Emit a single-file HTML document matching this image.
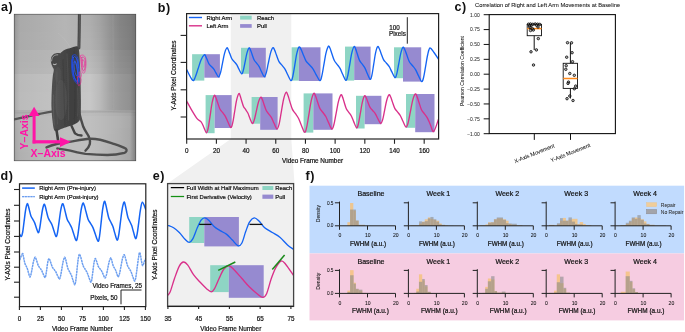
<!DOCTYPE html>
<html><head><meta charset="utf-8"><style>
html,body{margin:0;padding:0;background:#fff;}
svg{display:block;will-change:transform;}
text{font-family:"Liberation Sans",sans-serif;}
</style></head><body>
<svg width="685" height="332" viewBox="0 0 685 332">
<rect width="685" height="332" fill="#fff"/>
<text x="1.00" y="10.70" font-size="12.50" text-anchor="start" font-weight="bold" fill="#111" letter-spacing="0.6">a)</text>
<defs><clipPath id="photoclip"><rect x="14" y="14" width="122" height="147"/></clipPath><linearGradient id="pg0" gradientUnits="userSpaceOnUse" x1="14" x2="136" y1="0" y2="0"><stop offset="0.0000" stop-color="rgb(137,137,137)"/><stop offset="0.0164" stop-color="rgb(154,154,154)"/><stop offset="0.0492" stop-color="rgb(169,169,169)"/><stop offset="0.2131" stop-color="rgb(173,173,173)"/><stop offset="0.4180" stop-color="rgb(180,180,180)"/><stop offset="0.6230" stop-color="rgb(173,173,173)"/><stop offset="0.7049" stop-color="rgb(162,162,162)"/><stop offset="0.7869" stop-color="rgb(146,146,146)"/><stop offset="0.8689" stop-color="rgb(132,132,132)"/><stop offset="0.9508" stop-color="rgb(125,125,125)"/><stop offset="1.0000" stop-color="rgb(113,113,113)"/></linearGradient><linearGradient id="pg1" gradientUnits="userSpaceOnUse" x1="14" x2="136" y1="0" y2="0"><stop offset="0.0000" stop-color="rgb(140,140,140)"/><stop offset="0.0164" stop-color="rgb(157,157,157)"/><stop offset="0.0492" stop-color="rgb(170,170,170)"/><stop offset="0.2131" stop-color="rgb(174,174,174)"/><stop offset="0.4180" stop-color="rgb(181,181,181)"/><stop offset="0.6230" stop-color="rgb(174,174,174)"/><stop offset="0.7049" stop-color="rgb(163,163,163)"/><stop offset="0.7869" stop-color="rgb(147,147,147)"/><stop offset="0.8689" stop-color="rgb(132,132,132)"/><stop offset="0.9508" stop-color="rgb(125,125,125)"/><stop offset="1.0000" stop-color="rgb(114,114,114)"/></linearGradient><linearGradient id="pg2" gradientUnits="userSpaceOnUse" x1="14" x2="136" y1="0" y2="0"><stop offset="0.0000" stop-color="rgb(140,140,140)"/><stop offset="0.0164" stop-color="rgb(157,157,157)"/><stop offset="0.0492" stop-color="rgb(170,170,170)"/><stop offset="0.2131" stop-color="rgb(174,174,174)"/><stop offset="0.4180" stop-color="rgb(181,181,181)"/><stop offset="0.6230" stop-color="rgb(174,174,174)"/><stop offset="0.7049" stop-color="rgb(163,163,163)"/><stop offset="0.7869" stop-color="rgb(147,147,147)"/><stop offset="0.8689" stop-color="rgb(132,132,132)"/><stop offset="0.9508" stop-color="rgb(125,125,125)"/><stop offset="1.0000" stop-color="rgb(114,114,114)"/></linearGradient><linearGradient id="pg3" gradientUnits="userSpaceOnUse" x1="14" x2="136" y1="0" y2="0"><stop offset="0.0000" stop-color="rgb(141,141,141)"/><stop offset="0.0164" stop-color="rgb(158,158,158)"/><stop offset="0.0492" stop-color="rgb(170,170,170)"/><stop offset="0.2131" stop-color="rgb(174,174,174)"/><stop offset="0.4180" stop-color="rgb(181,181,181)"/><stop offset="0.6230" stop-color="rgb(175,175,175)"/><stop offset="0.7049" stop-color="rgb(164,164,164)"/><stop offset="0.7869" stop-color="rgb(148,148,148)"/><stop offset="0.8689" stop-color="rgb(133,133,133)"/><stop offset="0.9508" stop-color="rgb(126,126,126)"/><stop offset="1.0000" stop-color="rgb(114,114,114)"/></linearGradient><linearGradient id="pg4" gradientUnits="userSpaceOnUse" x1="14" x2="136" y1="0" y2="0"><stop offset="0.0000" stop-color="rgb(142,142,142)"/><stop offset="0.0164" stop-color="rgb(158,158,158)"/><stop offset="0.0492" stop-color="rgb(171,171,171)"/><stop offset="0.2131" stop-color="rgb(175,175,175)"/><stop offset="0.4180" stop-color="rgb(181,181,181)"/><stop offset="0.6230" stop-color="rgb(176,176,176)"/><stop offset="0.7049" stop-color="rgb(165,165,165)"/><stop offset="0.7869" stop-color="rgb(148,148,148)"/><stop offset="0.8689" stop-color="rgb(134,134,134)"/><stop offset="0.9508" stop-color="rgb(126,126,126)"/><stop offset="1.0000" stop-color="rgb(115,115,115)"/></linearGradient><linearGradient id="pg5" gradientUnits="userSpaceOnUse" x1="14" x2="136" y1="0" y2="0"><stop offset="0.0000" stop-color="rgb(143,143,143)"/><stop offset="0.0164" stop-color="rgb(159,159,159)"/><stop offset="0.0492" stop-color="rgb(171,171,171)"/><stop offset="0.2131" stop-color="rgb(175,175,175)"/><stop offset="0.4180" stop-color="rgb(181,181,181)"/><stop offset="0.6230" stop-color="rgb(177,177,177)"/><stop offset="0.7049" stop-color="rgb(166,166,166)"/><stop offset="0.7869" stop-color="rgb(149,149,149)"/><stop offset="0.8689" stop-color="rgb(135,135,135)"/><stop offset="0.9508" stop-color="rgb(127,127,127)"/><stop offset="1.0000" stop-color="rgb(115,115,115)"/></linearGradient><linearGradient id="pg6" gradientUnits="userSpaceOnUse" x1="14" x2="136" y1="0" y2="0"><stop offset="0.0000" stop-color="rgb(144,144,144)"/><stop offset="0.0164" stop-color="rgb(159,159,159)"/><stop offset="0.0492" stop-color="rgb(171,171,171)"/><stop offset="0.2131" stop-color="rgb(175,175,175)"/><stop offset="0.4180" stop-color="rgb(181,181,181)"/><stop offset="0.6230" stop-color="rgb(177,177,177)"/><stop offset="0.7049" stop-color="rgb(167,167,167)"/><stop offset="0.7869" stop-color="rgb(149,149,149)"/><stop offset="0.8689" stop-color="rgb(135,135,135)"/><stop offset="0.9508" stop-color="rgb(127,127,127)"/><stop offset="1.0000" stop-color="rgb(115,115,115)"/></linearGradient><linearGradient id="pg7" gradientUnits="userSpaceOnUse" x1="14" x2="136" y1="0" y2="0"><stop offset="0.0000" stop-color="rgb(148,148,148)"/><stop offset="0.0164" stop-color="rgb(164,164,164)"/><stop offset="0.0492" stop-color="rgb(177,177,177)"/><stop offset="0.2131" stop-color="rgb(180,180,180)"/><stop offset="0.4180" stop-color="rgb(184,184,184)"/><stop offset="0.6230" stop-color="rgb(182,182,182)"/><stop offset="0.7049" stop-color="rgb(172,172,172)"/><stop offset="0.7869" stop-color="rgb(154,154,154)"/><stop offset="0.8689" stop-color="rgb(140,140,140)"/><stop offset="0.9508" stop-color="rgb(132,132,132)"/><stop offset="1.0000" stop-color="rgb(118,118,118)"/></linearGradient><linearGradient id="pg8" gradientUnits="userSpaceOnUse" x1="14" x2="136" y1="0" y2="0"><stop offset="0.0000" stop-color="rgb(149,149,149)"/><stop offset="0.0164" stop-color="rgb(165,165,165)"/><stop offset="0.0492" stop-color="rgb(177,177,177)"/><stop offset="0.2131" stop-color="rgb(180,180,180)"/><stop offset="0.4180" stop-color="rgb(185,185,185)"/><stop offset="0.6230" stop-color="rgb(184,184,184)"/><stop offset="0.7049" stop-color="rgb(174,174,174)"/><stop offset="0.7869" stop-color="rgb(155,155,155)"/><stop offset="0.8689" stop-color="rgb(141,141,141)"/><stop offset="0.9508" stop-color="rgb(134,134,134)"/><stop offset="1.0000" stop-color="rgb(118,118,118)"/></linearGradient><linearGradient id="pg9" gradientUnits="userSpaceOnUse" x1="14" x2="136" y1="0" y2="0"><stop offset="0.0000" stop-color="rgb(150,150,150)"/><stop offset="0.0164" stop-color="rgb(166,166,166)"/><stop offset="0.0492" stop-color="rgb(178,178,178)"/><stop offset="0.2131" stop-color="rgb(181,181,181)"/><stop offset="0.4180" stop-color="rgb(186,186,186)"/><stop offset="0.6230" stop-color="rgb(186,186,186)"/><stop offset="0.7049" stop-color="rgb(176,176,176)"/><stop offset="0.7869" stop-color="rgb(156,156,156)"/><stop offset="0.8689" stop-color="rgb(143,143,143)"/><stop offset="0.9508" stop-color="rgb(136,136,136)"/><stop offset="1.0000" stop-color="rgb(119,119,119)"/></linearGradient><linearGradient id="pg10" gradientUnits="userSpaceOnUse" x1="14" x2="136" y1="0" y2="0"><stop offset="0.0000" stop-color="rgb(151,151,151)"/><stop offset="0.0164" stop-color="rgb(167,167,167)"/><stop offset="0.0492" stop-color="rgb(179,179,179)"/><stop offset="0.2131" stop-color="rgb(182,182,182)"/><stop offset="0.4180" stop-color="rgb(187,187,187)"/><stop offset="0.6230" stop-color="rgb(188,188,188)"/><stop offset="0.7049" stop-color="rgb(178,178,178)"/><stop offset="0.7869" stop-color="rgb(157,157,157)"/><stop offset="0.8689" stop-color="rgb(145,145,145)"/><stop offset="0.9508" stop-color="rgb(138,138,138)"/><stop offset="1.0000" stop-color="rgb(119,119,119)"/></linearGradient><linearGradient id="pg11" gradientUnits="userSpaceOnUse" x1="14" x2="136" y1="0" y2="0"><stop offset="0.0000" stop-color="rgb(158,158,158)"/><stop offset="0.0164" stop-color="rgb(174,174,174)"/><stop offset="0.0492" stop-color="rgb(186,186,186)"/><stop offset="0.2131" stop-color="rgb(190,190,190)"/><stop offset="0.4180" stop-color="rgb(194,194,194)"/><stop offset="0.6230" stop-color="rgb(198,198,198)"/><stop offset="0.7049" stop-color="rgb(186,186,186)"/><stop offset="0.7869" stop-color="rgb(164,164,164)"/><stop offset="0.8689" stop-color="rgb(152,152,152)"/><stop offset="0.9508" stop-color="rgb(144,144,144)"/><stop offset="1.0000" stop-color="rgb(122,122,122)"/></linearGradient><linearGradient id="pg12" gradientUnits="userSpaceOnUse" x1="14" x2="136" y1="0" y2="0"><stop offset="0.0000" stop-color="rgb(158,158,158)"/><stop offset="0.0164" stop-color="rgb(174,174,174)"/><stop offset="0.0492" stop-color="rgb(186,186,186)"/><stop offset="0.2131" stop-color="rgb(190,190,190)"/><stop offset="0.4180" stop-color="rgb(194,194,194)"/><stop offset="0.6230" stop-color="rgb(198,198,198)"/><stop offset="0.7049" stop-color="rgb(186,186,186)"/><stop offset="0.7869" stop-color="rgb(164,164,164)"/><stop offset="0.8689" stop-color="rgb(152,152,152)"/><stop offset="0.9508" stop-color="rgb(144,144,144)"/><stop offset="1.0000" stop-color="rgb(121,121,121)"/></linearGradient><linearGradient id="pg13" gradientUnits="userSpaceOnUse" x1="14" x2="136" y1="0" y2="0"><stop offset="0.0000" stop-color="rgb(158,158,158)"/><stop offset="0.0164" stop-color="rgb(174,174,174)"/><stop offset="0.0492" stop-color="rgb(186,186,186)"/><stop offset="0.2131" stop-color="rgb(190,190,190)"/><stop offset="0.4180" stop-color="rgb(194,194,194)"/><stop offset="0.6230" stop-color="rgb(198,198,198)"/><stop offset="0.7049" stop-color="rgb(186,186,186)"/><stop offset="0.7869" stop-color="rgb(164,164,164)"/><stop offset="0.8689" stop-color="rgb(152,152,152)"/><stop offset="0.9508" stop-color="rgb(144,144,144)"/><stop offset="1.0000" stop-color="rgb(122,122,122)"/></linearGradient><linearGradient id="pg14" gradientUnits="userSpaceOnUse" x1="14" x2="136" y1="0" y2="0"><stop offset="0.0000" stop-color="rgb(159,159,159)"/><stop offset="0.0164" stop-color="rgb(175,175,175)"/><stop offset="0.0492" stop-color="rgb(187,187,187)"/><stop offset="0.2131" stop-color="rgb(191,191,191)"/><stop offset="0.4180" stop-color="rgb(195,195,195)"/><stop offset="0.6230" stop-color="rgb(199,199,199)"/><stop offset="0.7049" stop-color="rgb(186,186,186)"/><stop offset="0.7869" stop-color="rgb(165,165,165)"/><stop offset="0.8689" stop-color="rgb(153,153,153)"/><stop offset="0.9508" stop-color="rgb(145,145,145)"/><stop offset="1.0000" stop-color="rgb(122,122,122)"/></linearGradient><linearGradient id="pg15" gradientUnits="userSpaceOnUse" x1="14" x2="136" y1="0" y2="0"><stop offset="0.0000" stop-color="rgb(159,159,159)"/><stop offset="0.0164" stop-color="rgb(175,175,175)"/><stop offset="0.0492" stop-color="rgb(187,187,187)"/><stop offset="0.2131" stop-color="rgb(191,191,191)"/><stop offset="0.4180" stop-color="rgb(195,195,195)"/><stop offset="0.6230" stop-color="rgb(199,199,199)"/><stop offset="0.7049" stop-color="rgb(186,186,186)"/><stop offset="0.7869" stop-color="rgb(165,165,165)"/><stop offset="0.8689" stop-color="rgb(153,153,153)"/><stop offset="0.9508" stop-color="rgb(145,145,145)"/><stop offset="1.0000" stop-color="rgb(122,122,122)"/></linearGradient><linearGradient id="pg16" gradientUnits="userSpaceOnUse" x1="14" x2="136" y1="0" y2="0"><stop offset="0.0000" stop-color="rgb(159,159,159)"/><stop offset="0.0164" stop-color="rgb(175,175,175)"/><stop offset="0.0492" stop-color="rgb(187,187,187)"/><stop offset="0.2131" stop-color="rgb(191,191,191)"/><stop offset="0.4180" stop-color="rgb(195,195,195)"/><stop offset="0.6230" stop-color="rgb(199,199,199)"/><stop offset="0.7049" stop-color="rgb(186,186,186)"/><stop offset="0.7869" stop-color="rgb(165,165,165)"/><stop offset="0.8689" stop-color="rgb(153,153,153)"/><stop offset="0.9508" stop-color="rgb(145,145,145)"/><stop offset="1.0000" stop-color="rgb(122,122,122)"/></linearGradient><linearGradient id="pg17" gradientUnits="userSpaceOnUse" x1="14" x2="136" y1="0" y2="0"><stop offset="0.0000" stop-color="rgb(151,151,151)"/><stop offset="0.0164" stop-color="rgb(166,166,166)"/><stop offset="0.0492" stop-color="rgb(174,174,174)"/><stop offset="0.2131" stop-color="rgb(178,178,178)"/><stop offset="0.4180" stop-color="rgb(182,182,182)"/><stop offset="0.6230" stop-color="rgb(184,184,184)"/><stop offset="0.7049" stop-color="rgb(179,179,179)"/><stop offset="0.7869" stop-color="rgb(171,171,171)"/><stop offset="0.8689" stop-color="rgb(163,163,163)"/><stop offset="0.9508" stop-color="rgb(156,156,156)"/><stop offset="1.0000" stop-color="rgb(120,120,120)"/></linearGradient><linearGradient id="pg18" gradientUnits="userSpaceOnUse" x1="14" x2="136" y1="0" y2="0"><stop offset="0.0000" stop-color="rgb(155,155,155)"/><stop offset="0.0164" stop-color="rgb(169,169,169)"/><stop offset="0.0492" stop-color="rgb(177,177,177)"/><stop offset="0.2131" stop-color="rgb(182,182,182)"/><stop offset="0.4180" stop-color="rgb(186,186,186)"/><stop offset="0.6230" stop-color="rgb(188,188,188)"/><stop offset="0.7049" stop-color="rgb(184,184,184)"/><stop offset="0.7869" stop-color="rgb(178,178,178)"/><stop offset="0.8689" stop-color="rgb(173,173,173)"/><stop offset="0.9508" stop-color="rgb(165,165,165)"/><stop offset="1.0000" stop-color="rgb(123,123,123)"/></linearGradient><linearGradient id="pg19" gradientUnits="userSpaceOnUse" x1="14" x2="136" y1="0" y2="0"><stop offset="0.0000" stop-color="rgb(157,157,157)"/><stop offset="0.0164" stop-color="rgb(171,171,171)"/><stop offset="0.0492" stop-color="rgb(179,179,179)"/><stop offset="0.2131" stop-color="rgb(185,185,185)"/><stop offset="0.4180" stop-color="rgb(190,190,190)"/><stop offset="0.6230" stop-color="rgb(191,191,191)"/><stop offset="0.7049" stop-color="rgb(187,187,187)"/><stop offset="0.7869" stop-color="rgb(182,182,182)"/><stop offset="0.8689" stop-color="rgb(177,177,177)"/><stop offset="0.9508" stop-color="rgb(169,169,169)"/><stop offset="1.0000" stop-color="rgb(125,125,125)"/></linearGradient><linearGradient id="pg20" gradientUnits="userSpaceOnUse" x1="14" x2="136" y1="0" y2="0"><stop offset="0.0000" stop-color="rgb(157,157,157)"/><stop offset="0.0164" stop-color="rgb(171,171,171)"/><stop offset="0.0492" stop-color="rgb(179,179,179)"/><stop offset="0.2131" stop-color="rgb(185,185,185)"/><stop offset="0.4180" stop-color="rgb(190,190,190)"/><stop offset="0.6230" stop-color="rgb(191,191,191)"/><stop offset="0.7049" stop-color="rgb(187,187,187)"/><stop offset="0.7869" stop-color="rgb(182,182,182)"/><stop offset="0.8689" stop-color="rgb(177,177,177)"/><stop offset="0.9508" stop-color="rgb(169,169,169)"/><stop offset="1.0000" stop-color="rgb(125,125,125)"/></linearGradient><linearGradient id="pg21" gradientUnits="userSpaceOnUse" x1="14" x2="136" y1="0" y2="0"><stop offset="0.0000" stop-color="rgb(157,157,157)"/><stop offset="0.0164" stop-color="rgb(171,171,171)"/><stop offset="0.0492" stop-color="rgb(179,179,179)"/><stop offset="0.2131" stop-color="rgb(185,185,185)"/><stop offset="0.4180" stop-color="rgb(190,190,190)"/><stop offset="0.6230" stop-color="rgb(191,191,191)"/><stop offset="0.7049" stop-color="rgb(187,187,187)"/><stop offset="0.7869" stop-color="rgb(182,182,182)"/><stop offset="0.8689" stop-color="rgb(177,177,177)"/><stop offset="0.9508" stop-color="rgb(169,169,169)"/><stop offset="1.0000" stop-color="rgb(125,125,125)"/></linearGradient><linearGradient id="pg22" gradientUnits="userSpaceOnUse" x1="14" x2="136" y1="0" y2="0"><stop offset="0.0000" stop-color="rgb(157,157,157)"/><stop offset="0.0164" stop-color="rgb(170,170,170)"/><stop offset="0.0492" stop-color="rgb(178,178,178)"/><stop offset="0.2131" stop-color="rgb(185,185,185)"/><stop offset="0.4180" stop-color="rgb(190,190,190)"/><stop offset="0.6230" stop-color="rgb(191,191,191)"/><stop offset="0.7049" stop-color="rgb(187,187,187)"/><stop offset="0.7869" stop-color="rgb(182,182,182)"/><stop offset="0.8689" stop-color="rgb(176,176,176)"/><stop offset="0.9508" stop-color="rgb(168,168,168)"/><stop offset="1.0000" stop-color="rgb(125,125,125)"/></linearGradient><linearGradient id="pg23" gradientUnits="userSpaceOnUse" x1="14" x2="136" y1="0" y2="0"><stop offset="0.0000" stop-color="rgb(156,156,156)"/><stop offset="0.0164" stop-color="rgb(170,170,170)"/><stop offset="0.0492" stop-color="rgb(178,178,178)"/><stop offset="0.2131" stop-color="rgb(185,185,185)"/><stop offset="0.4180" stop-color="rgb(190,190,190)"/><stop offset="0.6230" stop-color="rgb(191,191,191)"/><stop offset="0.7049" stop-color="rgb(187,187,187)"/><stop offset="0.7869" stop-color="rgb(181,181,181)"/><stop offset="0.8689" stop-color="rgb(176,176,176)"/><stop offset="0.9508" stop-color="rgb(168,168,168)"/><stop offset="1.0000" stop-color="rgb(125,125,125)"/></linearGradient><linearGradient id="pg24" gradientUnits="userSpaceOnUse" x1="14" x2="136" y1="0" y2="0"><stop offset="0.0000" stop-color="rgb(156,156,156)"/><stop offset="0.0164" stop-color="rgb(169,169,169)"/><stop offset="0.0492" stop-color="rgb(177,177,177)"/><stop offset="0.2131" stop-color="rgb(185,185,185)"/><stop offset="0.4180" stop-color="rgb(190,190,190)"/><stop offset="0.6230" stop-color="rgb(190,190,190)"/><stop offset="0.7049" stop-color="rgb(186,186,186)"/><stop offset="0.7869" stop-color="rgb(181,181,181)"/><stop offset="0.8689" stop-color="rgb(175,175,175)"/><stop offset="0.9508" stop-color="rgb(167,167,167)"/><stop offset="1.0000" stop-color="rgb(125,125,125)"/></linearGradient><linearGradient id="pg25" gradientUnits="userSpaceOnUse" x1="14" x2="136" y1="0" y2="0"><stop offset="0.0000" stop-color="rgb(155,155,155)"/><stop offset="0.0164" stop-color="rgb(169,169,169)"/><stop offset="0.0492" stop-color="rgb(177,177,177)"/><stop offset="0.2131" stop-color="rgb(185,185,185)"/><stop offset="0.4180" stop-color="rgb(190,190,190)"/><stop offset="0.6230" stop-color="rgb(190,190,190)"/><stop offset="0.7049" stop-color="rgb(186,186,186)"/><stop offset="0.7869" stop-color="rgb(180,180,180)"/><stop offset="0.8689" stop-color="rgb(175,175,175)"/><stop offset="0.9508" stop-color="rgb(167,167,167)"/><stop offset="1.0000" stop-color="rgb(125,125,125)"/></linearGradient><linearGradient id="pg26" gradientUnits="userSpaceOnUse" x1="14" x2="136" y1="0" y2="0"><stop offset="0.0000" stop-color="rgb(155,155,155)"/><stop offset="0.0164" stop-color="rgb(168,168,168)"/><stop offset="0.0492" stop-color="rgb(176,176,176)"/><stop offset="0.2131" stop-color="rgb(185,185,185)"/><stop offset="0.4180" stop-color="rgb(190,190,190)"/><stop offset="0.6230" stop-color="rgb(190,190,190)"/><stop offset="0.7049" stop-color="rgb(186,186,186)"/><stop offset="0.7869" stop-color="rgb(180,180,180)"/><stop offset="0.8689" stop-color="rgb(174,174,174)"/><stop offset="0.9508" stop-color="rgb(166,166,166)"/><stop offset="1.0000" stop-color="rgb(125,125,125)"/></linearGradient><linearGradient id="pg27" gradientUnits="userSpaceOnUse" x1="14" x2="136" y1="0" y2="0"><stop offset="0.0000" stop-color="rgb(155,155,155)"/><stop offset="0.0164" stop-color="rgb(168,168,168)"/><stop offset="0.0492" stop-color="rgb(176,176,176)"/><stop offset="0.2131" stop-color="rgb(185,185,185)"/><stop offset="0.4180" stop-color="rgb(190,190,190)"/><stop offset="0.6230" stop-color="rgb(190,190,190)"/><stop offset="0.7049" stop-color="rgb(186,186,186)"/><stop offset="0.7869" stop-color="rgb(180,180,180)"/><stop offset="0.8689" stop-color="rgb(174,174,174)"/><stop offset="0.9508" stop-color="rgb(166,166,166)"/><stop offset="1.0000" stop-color="rgb(125,125,125)"/></linearGradient><filter id="soft" x="-5%" y="-5%" width="110%" height="110%"><feGaussianBlur stdDeviation="0.6"/></filter><filter id="soft2" x="-5%" y="-5%" width="110%" height="110%"><feGaussianBlur stdDeviation="0.35"/></filter></defs>
<g clip-path="url(#photoclip)">
<g filter="url(#soft)"><rect x="14" y="14.0" width="122" height="3.3" fill="url(#pg0)"/><rect x="14" y="17.0" width="122" height="3.3" fill="url(#pg1)"/><rect x="14" y="20.0" width="122" height="6.3" fill="url(#pg2)"/><rect x="14" y="26.0" width="122" height="6.3" fill="url(#pg3)"/><rect x="14" y="32.0" width="122" height="6.3" fill="url(#pg4)"/><rect x="14" y="38.0" width="122" height="6.3" fill="url(#pg5)"/><rect x="14" y="44.0" width="122" height="6.3" fill="url(#pg6)"/><rect x="14" y="50.0" width="122" height="6.3" fill="url(#pg7)"/><rect x="14" y="56.0" width="122" height="6.3" fill="url(#pg8)"/><rect x="14" y="62.0" width="122" height="6.3" fill="url(#pg9)"/><rect x="14" y="68.0" width="122" height="6.3" fill="url(#pg10)"/><rect x="14" y="74.0" width="122" height="6.3" fill="url(#pg11)"/><rect x="14" y="80.0" width="122" height="6.3" fill="url(#pg12)"/><rect x="14" y="86.0" width="122" height="6.3" fill="url(#pg13)"/><rect x="14" y="92.0" width="122" height="6.3" fill="url(#pg14)"/><rect x="14" y="98.0" width="122" height="6.3" fill="url(#pg15)"/><rect x="14" y="104.0" width="122" height="6.3" fill="url(#pg16)"/><rect x="14" y="110.0" width="122" height="3.3" fill="url(#pg17)"/><rect x="14" y="113.0" width="122" height="3.3" fill="url(#pg18)"/><rect x="14" y="116.0" width="122" height="3.3" fill="url(#pg19)"/><rect x="14" y="119.0" width="122" height="3.3" fill="url(#pg20)"/><rect x="14" y="122.0" width="122" height="6.3" fill="url(#pg21)"/><rect x="14" y="128.0" width="122" height="6.3" fill="url(#pg22)"/><rect x="14" y="134.0" width="122" height="6.3" fill="url(#pg23)"/><rect x="14" y="140.0" width="122" height="6.3" fill="url(#pg24)"/><rect x="14" y="146.0" width="122" height="6.3" fill="url(#pg25)"/><rect x="14" y="152.0" width="122" height="6.3" fill="url(#pg26)"/><rect x="14" y="158.0" width="122" height="3.3" fill="url(#pg27)"/></g>
<g filter="url(#soft2)">
<path d="M113,14 L113.5,112" stroke="#a8a8a8" stroke-width="0.60" fill="none" stroke-linejoin="round" stroke-linecap="round" opacity="0.5"/>
<path d="M14,113 C50,112.5 90,112 136,111" stroke="#9a9a9a" stroke-width="0.80" fill="none" stroke-linejoin="round" stroke-linecap="round" opacity="0.6"/>
<path d="M79.4,14 C79.3,30 79.1,40 78.9,48" stroke="#474747" stroke-width="3.00" fill="none" stroke-linejoin="round" stroke-linecap="round" />
<path d="M79.4,14 C79.3,30 79.1,40 78.9,48" stroke="#5c5c5c" stroke-width="1.00" fill="none" stroke-linejoin="round" stroke-linecap="round" />
<path d="M79,111.7 C80.5,118 82,123 83.3,126.8 C85,131 87.5,134 88.8,136.6 C90,139.5 90.3,142 89.8,144.2 C89,147 87.5,149 85.5,150.7" stroke="#4c4c4c" stroke-width="2.40" fill="none" stroke-linejoin="round" stroke-linecap="round" />
<path d="M46.5,147.4 C53,144.5 60,142.8 68.2,142 C75,141 82,139.5 89.8,138.8 C97,138.5 104,140.5 111.5,143.1 C117,145 122,146.5 125.6,148.5 C127.5,150 126.5,152 124.5,152.8 C118,154.5 112,155 107.2,155 C99,155 92,154.5 85.5,153.9 C80,153 75,152 70.3,150.7 C65,149.5 61,149 57.3,148.5" stroke="#505050" stroke-width="2.40" fill="none" stroke-linejoin="round" stroke-linecap="round" />
<path d="M14,119.3 C26,117 38,114 51.9,111.7" stroke="#555555" stroke-width="2.20" fill="none" stroke-linejoin="round" stroke-linecap="round" />
<defs><linearGradient id="furg" x1="0" x2="1" y1="0" y2="0"><stop offset="0" stop-color="#505050"/><stop offset="0.35" stop-color="#474747"/><stop offset="0.8" stop-color="#3e3e3e"/><stop offset="1" stop-color="#4a4a4a"/></linearGradient></defs>
<path d="M60.50,53.20 C61.00,52.77 62.33,51.33 63.50,50.60 C64.67,49.87 66.08,49.33 67.50,48.80 C68.92,48.27 70.55,47.83 72.00,47.40 C73.45,46.97 75.15,46.23 76.20,46.20 C77.25,46.17 77.78,46.07 78.30,47.20 C78.82,48.33 79.02,50.03 79.30,53.00 C79.58,55.97 79.78,60.08 80.00,65.00 C80.22,69.92 80.45,76.67 80.60,82.50 C80.75,88.33 80.88,94.75 80.90,100.00 C80.92,105.25 80.93,110.58 80.70,114.00 C80.47,117.42 80.45,118.83 79.50,120.50 C78.55,122.17 76.92,123.00 75.00,124.00 C73.08,125.00 70.33,125.67 68.00,126.50 C65.67,127.33 63.00,128.20 61.00,129.00 C59.00,129.80 57.20,131.30 56.00,131.30 C54.80,131.30 54.40,130.88 53.80,129.00 C53.20,127.12 52.78,123.50 52.40,120.00 C52.02,116.50 51.65,111.62 51.50,108.00 C51.35,104.38 51.42,101.97 51.50,98.30 C51.58,94.63 51.78,89.72 52.00,86.00 C52.22,82.28 52.50,78.70 52.80,76.00 C53.10,73.30 53.90,71.43 53.80,69.80 C53.70,68.17 52.68,67.50 52.20,66.20 C51.72,64.90 51.07,63.45 50.90,62.00 C50.73,60.55 50.77,58.80 51.20,57.50 C51.63,56.20 52.53,54.95 53.50,54.20 C54.47,53.45 55.83,53.17 57.00,53.00 C58.17,52.83 59.92,53.17 60.50,53.20 Z" stroke="none" stroke-width="0.00" fill="url(#furg)" stroke-linejoin="round" stroke-linecap="round" />
<path d="M56.5,130 C57,133 57.5,136.5 58,139.8" stroke="#404040" stroke-width="2.60" fill="none" stroke-linejoin="round" stroke-linecap="round" />
<path d="M71.4,125.5 C73,129 74,131.5 75,133.3 C77,135 79,135.5 81.5,135.5" stroke="#454545" stroke-width="2.40" fill="none" stroke-linejoin="round" stroke-linecap="round" />
<ellipse cx="61" cy="100" rx="6" ry="20" fill="#5c5c5c" opacity="0.45" filter="url(#soft)"/>
<ellipse cx="58" cy="75" rx="3.5" ry="8" fill="#5a5a5a" opacity="0.4" filter="url(#soft)"/>
<path d="M53.5,95 C53.2,105 53.4,115 54.3,125" stroke="#6a6a6a" stroke-width="0.90" fill="none" stroke-linejoin="round" stroke-linecap="round" opacity="0.50"/>
<path d="M57,72 C56.5,85 56,100 57.5,124" stroke="#606060" stroke-width="0.80" fill="none" stroke-linejoin="round" stroke-linecap="round" opacity="0.50"/>
<path d="M63,60 C63.5,75 64,95 65,125" stroke="#3a3a3a" stroke-width="1.00" fill="none" stroke-linejoin="round" stroke-linecap="round" opacity="0.50"/>
<path d="M67,54 C68,70 68.5,95 68.5,120" stroke="#5e5e5e" stroke-width="0.80" fill="none" stroke-linejoin="round" stroke-linecap="round" opacity="0.50"/>
<path d="M74,52 C75,70 75.5,95 74.5,118" stroke="#363636" stroke-width="1.00" fill="none" stroke-linejoin="round" stroke-linecap="round" opacity="0.50"/>
<path d="M77.5,88 C78.2,100 78.5,108 77.5,116" stroke="#5e5e5e" stroke-width="0.80" fill="none" stroke-linejoin="round" stroke-linecap="round" opacity="0.50"/>
<path d="M51.3,60 C51.5,56 55,53.8 58.5,54.8 C60.5,56 60.2,59.5 58.5,62 C57,64.2 55.2,66 53.8,66.2 C52.2,65 51.2,62.5 51.3,60 Z" stroke="none" stroke-width="0.00" fill="#474747" stroke-linejoin="round" stroke-linecap="round" />
<path d="M51.6,61 C51.6,57 54.5,54.5 57.8,54.8" stroke="#a0a0a0" stroke-width="1.00" fill="none" stroke-linejoin="round" stroke-linecap="round" />
<path d="M53.5,64.2 C54.5,64.8 55.5,64.6 56.2,63.8" stroke="#b0b0b0" stroke-width="1.10" fill="none" stroke-linejoin="round" stroke-linecap="round" />
<path d="M70,47 C66,40 62,36 58,33" stroke="#d0d0d0" stroke-width="0.30" fill="none" stroke-linejoin="round" stroke-linecap="round" opacity="0.6"/>
</g>
<g fill="none" stroke-linejoin="round">
<path d="M72.5,56 C71.2,62 71.3,72 73.3,78 C75,83 77.8,85 79,82.5 C79.6,76 79.2,64 77.8,58 C76.5,54.5 73.8,53.5 72.5,56 Z" stroke="#1e4cf2" stroke-width="0.75" fill="none" stroke-linejoin="round" stroke-linecap="round" />
<path d="M73.2,57.5 C72.2,63 72.4,71 74.2,77 C75.6,81 77.7,82 78.2,79 C78.6,73 78,64 76.9,59.5 C76,56.5 74.1,55.5 73.2,57.5 Z" stroke="#2a5af8" stroke-width="0.75" fill="none" stroke-linejoin="round" stroke-linecap="round" />
<path d="M72,60 C71.7,66 72.8,74 75.1,79.5 C76.5,82.5 78.8,84 78.6,80 C78.3,74 76.9,66 75,61 C74,58.5 72.3,58 72,60 Z" stroke="#1b45e6" stroke-width="0.75" fill="none" stroke-linejoin="round" stroke-linecap="round" />
<path d="M74.2,62 C73.7,67 74.6,72 76,75 C77,77 77.9,76 77.7,73 C77.4,69 76.5,64 75.6,62 C75.1,61 74.4,61 74.2,62 Z" stroke="#2f62ff" stroke-width="0.75" fill="none" stroke-linejoin="round" stroke-linecap="round" />
<path d="M73,64 C72.6,70 73.6,76 75.6,80.5 C76.8,83 78.4,83 78.2,79.5" stroke="#2050f0" stroke-width="0.75" fill="none" stroke-linejoin="round" stroke-linecap="round" />
<path d="M75.5,57 C77.2,58.5 78.3,63 78.6,68" stroke="#2658f5" stroke-width="0.75" fill="none" stroke-linejoin="round" stroke-linecap="round" />
<path d="M80.5,56 C82,54 84.5,55 85.5,58 C86.5,62 86,68 84.8,72 C84,74 82.5,73.5 82,71 C81.5,67 80.8,61 80.5,56 Z" stroke="#f0369f" stroke-width="0.70" fill="none" stroke-linejoin="round" stroke-linecap="round" />
<path d="M81.8,57.5 C83,56.2 84.8,57.5 85.2,60.5 C85.7,64 85,69 84,70.5 C83,71.5 82.3,69 82,66 C81.7,63 81.5,60 81.8,57.5 Z" stroke="#e02a90" stroke-width="0.70" fill="none" stroke-linejoin="round" stroke-linecap="round" />
<path d="M82.5,60 C83.5,59 84.5,61 84.5,63.5 C84.5,66 83.8,68 83.2,67 C82.6,65.5 82.3,62 82.5,60 Z" stroke="#ea3399" stroke-width="0.70" fill="none" stroke-linejoin="round" stroke-linecap="round" />
<path d="M77.5,77 C79,75.5 81,77 81,80 C81,83.5 79.5,86.5 78.5,85.5 C77.5,84 77.2,80 77.5,77 Z" stroke="#d42a8a" stroke-width="0.70" fill="none" stroke-linejoin="round" stroke-linecap="round" />
<path d="M79.5,72 C80.8,71 81.8,73 81.3,76 C80.8,78.5 79.6,79 79.3,77 Z" stroke="#e0409f" stroke-width="0.70" fill="none" stroke-linejoin="round" stroke-linecap="round" />
</g>
</g>
<rect x="14.2" y="14.2" width="121.6" height="146.6" fill="none" stroke="#4a4a4a" stroke-width="0.6"/>
<rect x="32.6" y="115" width="3.0" height="28.5" fill="#ff14a6"/>
<polygon points="28.7,116 39.5,116 34.1,106.8" fill="#ff14a6"/>
<rect x="32.6" y="140.2" width="28.5" height="3.2" fill="#ff14a6"/>
<polygon points="60,137.2 60,147 70.8,141.8" fill="#ff14a6"/>
<text x="0.00" y="0.00" font-size="10.50" text-anchor="start" font-weight="bold" fill="#ff14a6" transform="translate(28.4,149.4) rotate(-90)">Y–Axis</text>
<text x="30.60" y="157.20" font-size="10.50" text-anchor="start" font-weight="bold" fill="#ff14a6" >X–Axis</text>
<text x="157.80" y="11.70" font-size="12.50" text-anchor="start" font-weight="bold" fill="#111" letter-spacing="0.6">b)</text>
<polygon points="230.8,13.6 291.3,13.6 291.3,139.0 294.5,183.5 167.5,183.5 230.8,139.0" fill="#f0f0f0"/>
<rect x="192.10" y="54.20" width="12.20" height="26.40" fill="#8ed5c4" />
<rect x="204.30" y="54.20" width="15.60" height="23.50" fill="#968ad0" />
<rect x="241.00" y="47.80" width="8.00" height="26.00" fill="#8ed5c4" />
<rect x="249.00" y="47.80" width="16.80" height="29.70" fill="#968ad0" />
<rect x="291.60" y="47.30" width="7.20" height="33.30" fill="#8ed5c4" />
<rect x="298.80" y="47.30" width="21.70" height="33.70" fill="#968ad0" />
<rect x="345.00" y="46.60" width="9.20" height="34.00" fill="#8ed5c4" />
<rect x="354.20" y="46.60" width="16.40" height="33.40" fill="#968ad0" />
<rect x="394.00" y="47.30" width="9.00" height="30.90" fill="#8ed5c4" />
<rect x="403.00" y="47.30" width="18.20" height="34.30" fill="#968ad0" />
<rect x="205.60" y="95.10" width="9.00" height="38.10" fill="#8ed5c4" />
<rect x="214.60" y="95.10" width="17.10" height="32.90" fill="#968ad0" />
<rect x="251.60" y="97.00" width="8.60" height="26.70" fill="#8ed5c4" />
<rect x="260.20" y="97.00" width="17.40" height="32.80" fill="#968ad0" />
<rect x="303.60" y="93.40" width="9.70" height="39.20" fill="#8ed5c4" />
<rect x="313.30" y="93.40" width="19.20" height="36.40" fill="#968ad0" />
<rect x="356.00" y="95.80" width="8.60" height="32.70" fill="#8ed5c4" />
<rect x="364.60" y="95.80" width="16.80" height="28.40" fill="#968ad0" />
<rect x="406.00" y="94.00" width="9.20" height="33.80" fill="#8ed5c4" />
<rect x="415.20" y="94.00" width="19.30" height="38.20" fill="#968ad0" />
<path d="M186.60,69.50 C187.60,71.30 191.15,79.05 192.60,80.30 C194.05,81.55 194.39,78.86 195.29,76.98 C196.19,75.11 197.03,71.93 197.98,69.08 C198.94,66.23 199.97,62.28 201.02,59.90 C202.08,57.52 203.52,55.39 204.30,54.80 C205.08,54.21 205.25,55.53 205.72,56.34 C206.19,57.15 206.57,58.36 207.14,59.64 C207.71,60.92 208.42,62.90 209.13,64.04 C209.84,65.18 210.62,65.62 211.40,66.46 C212.18,67.30 213.06,68.04 213.81,69.10 C214.57,70.16 215.16,71.56 215.94,72.84 C216.72,74.12 217.76,76.77 218.50,76.80 C219.24,76.83 219.77,75.16 220.41,73.04 C221.05,70.92 221.64,67.31 222.32,64.08 C223.00,60.86 223.73,56.38 224.48,53.68 C225.22,50.98 226.17,48.56 226.80,47.90 C227.43,47.24 227.79,48.76 228.28,49.71 C228.77,50.66 229.17,52.09 229.76,53.60 C230.35,55.11 231.09,57.44 231.83,58.78 C232.57,60.12 233.39,60.63 234.20,61.63 C235.01,62.62 235.93,63.48 236.72,64.73 C237.51,65.99 238.12,67.63 238.94,69.14 C239.75,70.65 240.87,73.58 241.60,73.80 C242.33,74.02 242.73,72.33 243.30,70.43 C243.87,68.53 244.40,65.30 245.00,62.40 C245.61,59.51 246.26,55.50 246.93,53.08 C247.59,50.66 248.40,48.43 249.00,47.90 C249.60,47.37 250.01,48.86 250.52,49.92 C251.03,50.97 251.43,52.56 252.04,54.24 C252.65,55.92 253.41,58.51 254.17,60.00 C254.93,61.48 255.76,62.06 256.60,63.16 C257.44,64.27 258.37,65.23 259.18,66.62 C259.99,68.01 260.63,69.84 261.46,71.52 C262.30,73.20 263.41,76.46 264.20,76.70 C264.99,76.94 265.52,75.06 266.18,72.94 C266.84,70.82 267.45,67.21 268.16,63.98 C268.86,60.76 269.62,56.28 270.39,53.58 C271.17,50.88 272.10,48.38 272.80,47.80 C273.50,47.22 274.01,48.89 274.62,50.10 C275.23,51.30 275.71,53.10 276.44,55.02 C277.17,56.93 278.08,59.88 278.99,61.58 C279.90,63.27 280.90,63.93 281.90,65.18 C282.90,66.44 284.02,67.53 284.99,69.12 C285.96,70.71 286.72,72.78 287.72,74.70 C288.72,76.61 290.15,80.34 291.00,80.60 C291.85,80.86 292.23,78.70 292.84,76.23 C293.45,73.77 294.03,69.57 294.68,65.82 C295.33,62.06 296.04,56.86 296.76,53.72 C297.48,50.58 298.28,47.73 299.00,47.00 C299.72,46.27 300.39,48.12 301.08,49.35 C301.77,50.58 302.33,52.43 303.16,54.39 C303.99,56.35 305.03,59.38 306.07,61.11 C307.11,62.85 308.26,63.52 309.40,64.81 C310.54,66.10 311.83,67.22 312.94,68.84 C314.05,70.46 314.91,72.59 316.06,74.55 C317.20,76.51 318.85,80.34 319.80,80.60 C320.75,80.86 321.12,78.65 321.78,76.13 C322.44,73.61 323.05,69.31 323.76,65.46 C324.46,61.62 325.22,56.29 325.99,53.08 C326.77,49.87 327.71,46.95 328.40,46.20 C329.09,45.45 329.56,47.34 330.14,48.59 C330.72,49.85 331.18,51.73 331.88,53.72 C332.58,55.72 333.45,58.80 334.32,60.56 C335.19,62.33 336.14,63.02 337.10,64.33 C338.06,65.64 339.13,66.78 340.06,68.43 C340.99,70.08 341.71,72.25 342.67,74.24 C343.62,76.24 344.96,80.11 345.80,80.40 C346.64,80.69 347.06,78.48 347.69,76.01 C348.31,73.53 348.90,69.30 349.57,65.53 C350.24,61.75 350.97,56.51 351.70,53.36 C352.44,50.21 353.35,47.34 354.00,46.60 C354.65,45.86 355.08,47.69 355.62,48.90 C356.16,50.10 356.59,51.90 357.24,53.82 C357.89,55.73 358.70,58.68 359.51,60.38 C360.32,62.07 361.21,62.73 362.10,63.98 C362.99,65.24 363.99,66.33 364.85,67.92 C365.72,69.51 366.39,71.58 367.28,73.50 C368.18,75.41 369.43,79.13 370.20,79.40 C370.97,79.67 371.33,77.54 371.90,75.14 C372.47,72.73 373.00,68.63 373.60,64.97 C374.21,61.31 374.86,56.22 375.53,53.16 C376.19,50.10 376.96,47.33 377.60,46.60 C378.24,45.87 378.76,47.63 379.34,48.76 C379.92,49.90 380.38,51.60 381.08,53.40 C381.78,55.20 382.65,57.98 383.52,59.58 C384.39,61.17 385.34,61.79 386.30,62.98 C387.26,64.16 388.33,65.19 389.26,66.69 C390.19,68.18 390.91,70.14 391.87,71.94 C392.82,73.74 394.17,77.23 395.00,77.50 C395.83,77.77 396.23,75.79 396.84,73.57 C397.45,71.36 398.03,67.58 398.68,64.21 C399.33,60.84 400.04,56.16 400.76,53.34 C401.48,50.52 402.31,47.91 403.00,47.30 C403.69,46.69 404.25,48.44 404.87,49.70 C405.49,50.96 405.99,52.85 406.74,54.85 C407.49,56.85 408.42,59.93 409.36,61.71 C410.29,63.48 411.32,64.16 412.35,65.48 C413.38,66.79 414.53,67.94 415.53,69.59 C416.53,71.25 417.31,73.43 418.33,75.43 C419.36,77.43 420.82,81.30 421.70,81.60 C422.58,81.90 422.97,79.70 423.61,77.23 C424.25,74.77 424.84,70.57 425.52,66.82 C426.20,63.06 426.93,57.86 427.68,54.72 C428.42,51.58 428.95,48.37 430.00,48.00 C431.05,47.63 432.57,50.60 434.00,52.50 C435.43,54.40 437.83,58.25 438.60,59.40" stroke="#1464f4" stroke-width="1.35" fill="none" stroke-linejoin="round" stroke-linecap="round" clip-path="url(#bclip)"/>
<path d="M186.60,101.00 C187.50,102.60 190.22,107.62 192.00,110.60 C193.78,113.58 195.78,117.02 197.30,118.90 C198.82,120.78 200.02,120.52 201.10,121.90 C202.18,123.28 202.92,125.38 203.80,127.20 C204.68,129.02 205.66,132.67 206.40,132.80 C207.14,132.93 207.61,130.69 208.22,127.95 C208.82,125.22 209.39,120.55 210.03,116.39 C210.68,112.22 211.38,106.44 212.09,102.96 C212.80,99.48 213.66,96.37 214.30,95.50 C214.94,94.63 215.40,96.57 215.95,97.74 C216.50,98.91 216.94,100.67 217.60,102.54 C218.26,104.41 219.09,107.29 219.91,108.94 C220.74,110.59 221.64,111.23 222.55,112.46 C223.46,113.69 224.48,114.75 225.36,116.30 C226.24,117.85 226.92,119.87 227.83,121.74 C228.74,123.61 230.00,127.27 230.80,127.50 C231.60,127.73 232.03,125.58 232.64,123.11 C233.25,120.63 233.83,116.40 234.48,112.63 C235.13,108.85 235.84,103.61 236.56,100.46 C237.28,97.31 238.20,94.48 238.80,93.70 C239.40,92.92 239.70,94.69 240.15,95.79 C240.60,96.88 240.96,98.52 241.50,100.26 C242.04,101.99 242.72,104.68 243.39,106.22 C244.07,107.76 244.81,108.35 245.55,109.49 C246.29,110.64 247.12,111.63 247.84,113.07 C248.56,114.51 249.13,116.40 249.87,118.14 C250.61,119.87 251.57,123.18 252.30,123.50 C253.03,123.82 253.59,122.01 254.23,120.08 C254.88,118.15 255.48,114.86 256.16,111.93 C256.85,108.99 257.59,104.91 258.35,102.46 C259.10,100.01 260.04,97.71 260.70,97.20 C261.36,96.69 261.79,98.26 262.33,99.43 C262.87,100.59 263.31,102.34 263.96,104.20 C264.61,106.05 265.43,108.91 266.24,110.56 C267.06,112.20 267.95,112.84 268.85,114.05 C269.75,115.27 270.75,116.33 271.62,117.87 C272.49,119.41 273.17,121.42 274.07,123.28 C274.96,125.13 276.17,128.84 277.00,129.00 C277.83,129.16 278.38,126.93 279.07,124.24 C279.76,121.56 280.40,116.98 281.14,112.90 C281.88,108.81 282.67,103.14 283.48,99.72 C284.29,96.30 285.27,93.16 286.00,92.40 C286.73,91.64 287.24,93.73 287.86,95.19 C288.48,96.65 288.98,98.83 289.72,101.16 C290.46,103.48 291.39,107.06 292.32,109.12 C293.25,111.17 294.28,111.97 295.30,113.49 C296.32,115.02 297.47,116.35 298.46,118.27 C299.45,120.19 300.23,122.71 301.25,125.04 C302.28,127.36 303.69,131.85 304.60,132.20 C305.51,132.55 306.00,130.00 306.69,127.16 C307.39,124.31 308.04,119.46 308.79,115.13 C309.53,110.80 310.33,104.78 311.15,101.16 C311.97,97.54 312.97,94.28 313.70,93.40 C314.43,92.52 314.91,94.59 315.51,95.89 C316.11,97.20 316.60,99.16 317.32,101.23 C318.04,103.31 318.95,106.51 319.85,108.35 C320.76,110.19 321.75,110.90 322.75,112.27 C323.75,113.63 324.86,114.82 325.83,116.54 C326.79,118.26 327.55,120.52 328.54,122.59 C329.54,124.67 330.90,128.67 331.80,129.00 C332.70,129.33 333.21,127.06 333.92,124.55 C334.62,122.05 335.28,117.77 336.03,113.95 C336.78,110.13 337.60,104.83 338.42,101.64 C339.25,98.45 340.31,95.55 341.00,94.80 C341.69,94.05 342.04,95.90 342.56,97.11 C343.08,98.32 343.50,100.14 344.12,102.06 C344.74,103.98 345.52,106.95 346.30,108.66 C347.08,110.36 347.94,111.02 348.80,112.29 C349.66,113.55 350.62,114.66 351.45,116.25 C352.28,117.84 352.93,119.94 353.79,121.86 C354.65,123.78 355.83,127.50 356.60,127.80 C357.37,128.10 357.83,125.99 358.44,123.64 C359.05,121.29 359.63,117.29 360.28,113.72 C360.93,110.15 361.64,105.19 362.36,102.20 C363.08,99.21 363.96,96.54 364.60,95.80 C365.24,95.06 365.67,96.72 366.21,97.74 C366.75,98.75 367.18,100.28 367.82,101.89 C368.46,103.51 369.27,106.00 370.07,107.43 C370.88,108.87 371.76,109.42 372.65,110.48 C373.54,111.54 374.53,112.47 375.39,113.81 C376.25,115.14 376.92,116.90 377.80,118.51 C378.69,120.13 379.90,123.29 380.70,123.50 C381.50,123.71 381.97,121.87 382.61,119.77 C383.25,117.66 383.84,114.08 384.52,110.87 C385.20,107.67 385.93,103.22 386.68,100.54 C387.42,97.86 388.33,95.38 389.00,94.80 C389.67,94.22 390.13,95.87 390.70,97.05 C391.27,98.23 391.72,100.01 392.40,101.88 C393.08,103.76 393.93,106.66 394.78,108.32 C395.63,109.99 396.56,110.63 397.50,111.87 C398.44,113.10 399.48,114.17 400.39,115.73 C401.30,117.29 402.00,119.33 402.94,121.20 C403.88,123.08 405.14,126.75 406.00,127.00 C406.86,127.25 407.41,125.13 408.12,122.71 C408.82,120.29 409.48,116.17 410.23,112.48 C410.98,108.80 411.80,103.68 412.62,100.60 C413.45,97.52 414.46,94.66 415.20,94.00 C415.94,93.34 416.43,95.25 417.05,96.62 C417.67,97.99 418.16,100.05 418.90,102.23 C419.64,104.41 420.56,107.78 421.49,109.71 C422.42,111.64 423.43,112.39 424.45,113.82 C425.47,115.26 426.61,116.50 427.59,118.31 C428.58,120.12 429.35,122.49 430.37,124.67 C431.39,126.85 432.33,132.34 433.70,131.40 C435.07,130.46 437.78,121.07 438.60,119.00" stroke="#d9308a" stroke-width="1.35" fill="none" stroke-linejoin="round" stroke-linecap="round" clip-path="url(#bclip)"/>
<clipPath id="bclip"><rect x="186.6" y="13.6" width="252.0" height="125.4"/></clipPath>
<rect x="186.60" y="13.60" width="252.00" height="125.40" fill="none" stroke="#222" stroke-width="1.2"/>
<line x1="180.60" y1="35.40" x2="186.60" y2="35.40" stroke="#222" stroke-width="1.10" />
<line x1="180.60" y1="62.40" x2="186.60" y2="62.40" stroke="#222" stroke-width="1.10" />
<line x1="180.60" y1="89.80" x2="186.60" y2="89.80" stroke="#222" stroke-width="1.10" />
<line x1="180.60" y1="117.00" x2="186.60" y2="117.00" stroke="#222" stroke-width="1.10" />
<line x1="186.70" y1="139.00" x2="186.70" y2="143.80" stroke="#222" stroke-width="1.10" />
<text x="186.70" y="153.00" font-size="6.30" text-anchor="middle" font-weight="normal" fill="#111" stroke="#111" stroke-width="0.20" >0</text>
<line x1="216.39" y1="139.00" x2="216.39" y2="143.80" stroke="#222" stroke-width="1.10" />
<text x="216.39" y="153.00" font-size="6.30" text-anchor="middle" font-weight="normal" fill="#111" stroke="#111" stroke-width="0.20" >20</text>
<line x1="246.07" y1="139.00" x2="246.07" y2="143.80" stroke="#222" stroke-width="1.10" />
<text x="246.07" y="153.00" font-size="6.30" text-anchor="middle" font-weight="normal" fill="#111" stroke="#111" stroke-width="0.20" >40</text>
<line x1="275.76" y1="139.00" x2="275.76" y2="143.80" stroke="#222" stroke-width="1.10" />
<text x="275.76" y="153.00" font-size="6.30" text-anchor="middle" font-weight="normal" fill="#111" stroke="#111" stroke-width="0.20" >60</text>
<line x1="305.44" y1="139.00" x2="305.44" y2="143.80" stroke="#222" stroke-width="1.10" />
<text x="305.44" y="153.00" font-size="6.30" text-anchor="middle" font-weight="normal" fill="#111" stroke="#111" stroke-width="0.20" >80</text>
<line x1="335.13" y1="139.00" x2="335.13" y2="143.80" stroke="#222" stroke-width="1.10" />
<text x="335.13" y="153.00" font-size="6.30" text-anchor="middle" font-weight="normal" fill="#111" stroke="#111" stroke-width="0.20" >100</text>
<line x1="364.82" y1="139.00" x2="364.82" y2="143.80" stroke="#222" stroke-width="1.10" />
<text x="364.82" y="153.00" font-size="6.30" text-anchor="middle" font-weight="normal" fill="#111" stroke="#111" stroke-width="0.20" >120</text>
<line x1="394.50" y1="139.00" x2="394.50" y2="143.80" stroke="#222" stroke-width="1.10" />
<text x="394.50" y="153.00" font-size="6.30" text-anchor="middle" font-weight="normal" fill="#111" stroke="#111" stroke-width="0.20" >140</text>
<line x1="424.19" y1="139.00" x2="424.19" y2="143.80" stroke="#222" stroke-width="1.10" />
<text x="424.19" y="153.00" font-size="6.30" text-anchor="middle" font-weight="normal" fill="#111" stroke="#111" stroke-width="0.20" >160</text>
<text x="312.60" y="162.60" font-size="6.40" text-anchor="middle" font-weight="normal" fill="#111" stroke="#111" stroke-width="0.20" >Video Frame Number</text>
<text x="0.00" y="0.00" font-size="6.40" text-anchor="middle" font-weight="normal" fill="#111" stroke="#111" stroke-width="0.20" transform="translate(175.8,75.5) rotate(-90)">Y-Axis Pixel Coordinates</text>
<line x1="188.90" y1="17.50" x2="202.00" y2="17.50" stroke="#1464f4" stroke-width="1.40" />
<line x1="188.90" y1="25.80" x2="202.00" y2="25.80" stroke="#d9308a" stroke-width="1.40" />
<text x="206.40" y="19.90" font-size="5.90" text-anchor="start" font-weight="normal" fill="#111" stroke="#111" stroke-width="0.20" >Right Arm</text>
<text x="206.40" y="28.10" font-size="5.90" text-anchor="start" font-weight="normal" fill="#111" stroke="#111" stroke-width="0.20" >Left Arm</text>
<rect x="240.10" y="15.70" width="11.60" height="3.90" fill="#8ed5c4" />
<rect x="240.10" y="24.10" width="11.60" height="3.70" fill="#968ad0" />
<text x="257.00" y="19.90" font-size="5.90" text-anchor="start" font-weight="normal" fill="#111" stroke="#111" stroke-width="0.20" >Reach</text>
<text x="257.00" y="28.10" font-size="5.90" text-anchor="start" font-weight="normal" fill="#111" stroke="#111" stroke-width="0.20" >Pull</text>
<line x1="407.30" y1="17.20" x2="407.30" y2="43.70" stroke="#222" stroke-width="1.00" />
<text x="389.20" y="29.60" font-size="6.30" text-anchor="start" font-weight="normal" fill="#111" stroke="#111" stroke-width="0.20" >100</text>
<text x="389.00" y="36.30" font-size="6.30" text-anchor="start" font-weight="normal" fill="#111" stroke="#111" stroke-width="0.20" >Pixels</text>
<text x="454.40" y="10.80" font-size="12.50" text-anchor="start" font-weight="bold" fill="#111" letter-spacing="0.6">c)</text>
<text x="475.10" y="7.30" font-size="5.76" text-anchor="start" font-weight="normal" fill="#111" stroke="#111" stroke-width="0.06" >Correlation of Right and Left Arm Movements at Baseline</text>
<rect x="489.20" y="14.60" width="126.20" height="119.00" fill="none" stroke="#111" stroke-width="1.1"/>
<line x1="483.70" y1="14.70" x2="489.20" y2="14.70" stroke="#111" stroke-width="1.00" />
<text x="479.80" y="16.50" font-size="5.00" text-anchor="end" font-weight="normal" fill="#333" stroke="#333" stroke-width="0.06" >1.00</text>
<line x1="483.70" y1="29.58" x2="489.20" y2="29.58" stroke="#111" stroke-width="1.00" />
<text x="479.80" y="31.38" font-size="5.00" text-anchor="end" font-weight="normal" fill="#333" stroke="#333" stroke-width="0.06" >0.75</text>
<line x1="483.70" y1="44.45" x2="489.20" y2="44.45" stroke="#111" stroke-width="1.00" />
<text x="479.80" y="46.25" font-size="5.00" text-anchor="end" font-weight="normal" fill="#333" stroke="#333" stroke-width="0.06" >0.50</text>
<line x1="483.70" y1="59.33" x2="489.20" y2="59.33" stroke="#111" stroke-width="1.00" />
<text x="479.80" y="61.12" font-size="5.00" text-anchor="end" font-weight="normal" fill="#333" stroke="#333" stroke-width="0.06" >0.25</text>
<line x1="483.70" y1="74.20" x2="489.20" y2="74.20" stroke="#111" stroke-width="1.00" />
<text x="479.80" y="76.00" font-size="5.00" text-anchor="end" font-weight="normal" fill="#333" stroke="#333" stroke-width="0.06" >0.00</text>
<line x1="483.70" y1="89.08" x2="489.20" y2="89.08" stroke="#111" stroke-width="1.00" />
<text x="479.80" y="90.88" font-size="5.00" text-anchor="end" font-weight="normal" fill="#333" stroke="#333" stroke-width="0.06" >−0.25</text>
<line x1="483.70" y1="103.95" x2="489.20" y2="103.95" stroke="#111" stroke-width="1.00" />
<text x="479.80" y="105.75" font-size="5.00" text-anchor="end" font-weight="normal" fill="#333" stroke="#333" stroke-width="0.06" >−0.50</text>
<line x1="483.70" y1="118.83" x2="489.20" y2="118.83" stroke="#111" stroke-width="1.00" />
<text x="479.80" y="120.62" font-size="5.00" text-anchor="end" font-weight="normal" fill="#333" stroke="#333" stroke-width="0.06" >−0.75</text>
<line x1="483.70" y1="133.70" x2="489.20" y2="133.70" stroke="#111" stroke-width="1.00" />
<text x="479.80" y="135.50" font-size="5.00" text-anchor="end" font-weight="normal" fill="#333" stroke="#333" stroke-width="0.06" >−1.00</text>
<text x="0.00" y="0.00" font-size="5.05" text-anchor="middle" font-weight="normal" fill="#111" stroke="#111" stroke-width="0.06" transform="translate(463.5,71.0) rotate(-90)">Pearson Correlation Coefficient</text>
<line x1="534.30" y1="133.60" x2="534.30" y2="139.90" stroke="#111" stroke-width="1.00" />
<line x1="570.50" y1="133.60" x2="570.50" y2="139.90" stroke="#111" stroke-width="1.00" />
<text x="0.00" y="0.00" font-size="5.45" text-anchor="end" font-weight="normal" fill="#111" stroke="#111" stroke-width="0.06" transform="translate(554.8,147.2) rotate(-22)">X-Axis Movement</text>
<text x="0.00" y="0.00" font-size="5.45" text-anchor="end" font-weight="normal" fill="#111" stroke="#111" stroke-width="0.06" transform="translate(590.6,146.6) rotate(-22)">Y-Axis Movement</text>
<rect x="527.2" y="24.4" width="14.3" height="11.3" fill="none" stroke="#111" stroke-width="0.9"/>
<line x1="534.20" y1="35.70" x2="534.20" y2="50.00" stroke="#111" stroke-width="1.00" />
<line x1="534.20" y1="23.60" x2="534.20" y2="24.40" stroke="#111" stroke-width="1.00" />
<line x1="527.20" y1="28.60" x2="541.50" y2="28.60" stroke="#ff8a1c" stroke-width="1.50" />
<rect x="563.2" y="63.3" width="14.3" height="25.1" fill="none" stroke="#111" stroke-width="0.9"/>
<line x1="570.40" y1="42.70" x2="570.40" y2="63.30" stroke="#111" stroke-width="1.00" />
<line x1="570.40" y1="88.40" x2="570.40" y2="98.50" stroke="#111" stroke-width="1.00" />
<line x1="563.20" y1="78.50" x2="577.50" y2="78.50" stroke="#ff8a1c" stroke-width="1.50" />
<circle cx="528.50" cy="24.20" r="1.25" fill="#777" fill-opacity="0.55" stroke="#000" stroke-width="0.75"/>
<circle cx="530.50" cy="24.00" r="1.25" fill="#777" fill-opacity="0.55" stroke="#000" stroke-width="0.75"/>
<circle cx="532.80" cy="24.30" r="1.25" fill="#777" fill-opacity="0.55" stroke="#000" stroke-width="0.75"/>
<circle cx="535.20" cy="24.00" r="1.25" fill="#777" fill-opacity="0.55" stroke="#000" stroke-width="0.75"/>
<circle cx="537.60" cy="24.20" r="1.25" fill="#777" fill-opacity="0.55" stroke="#000" stroke-width="0.75"/>
<circle cx="539.80" cy="24.40" r="1.25" fill="#777" fill-opacity="0.55" stroke="#000" stroke-width="0.75"/>
<circle cx="531.00" cy="25.80" r="1.25" fill="#777" fill-opacity="0.55" stroke="#000" stroke-width="0.75"/>
<circle cx="536.50" cy="25.20" r="1.25" fill="#777" fill-opacity="0.55" stroke="#000" stroke-width="0.75"/>
<circle cx="530.00" cy="27.50" r="1.25" fill="#777" fill-opacity="0.55" stroke="#000" stroke-width="0.75"/>
<circle cx="532.50" cy="28.80" r="1.25" fill="#777" fill-opacity="0.55" stroke="#000" stroke-width="0.75"/>
<circle cx="538.00" cy="27.00" r="1.25" fill="#777" fill-opacity="0.55" stroke="#000" stroke-width="0.75"/>
<circle cx="530.50" cy="30.50" r="1.25" fill="#777" fill-opacity="0.55" stroke="#000" stroke-width="0.75"/>
<circle cx="533.30" cy="30.00" r="1.25" fill="#777" fill-opacity="0.55" stroke="#000" stroke-width="0.75"/>
<circle cx="538.30" cy="38.60" r="1.25" fill="#777" fill-opacity="0.55" stroke="#000" stroke-width="0.75"/>
<circle cx="531.00" cy="51.80" r="1.25" fill="#777" fill-opacity="0.55" stroke="#000" stroke-width="0.75"/>
<circle cx="536.40" cy="49.90" r="1.25" fill="#777" fill-opacity="0.55" stroke="#000" stroke-width="0.75"/>
<circle cx="533.50" cy="65.00" r="1.25" fill="#777" fill-opacity="0.55" stroke="#000" stroke-width="0.75"/>
<circle cx="529.50" cy="26.00" r="1.25" fill="#777" fill-opacity="0.55" stroke="#000" stroke-width="0.75"/>
<circle cx="567.50" cy="42.70" r="1.25" fill="#777" fill-opacity="0.55" stroke="#000" stroke-width="0.75"/>
<circle cx="572.10" cy="52.70" r="1.25" fill="#777" fill-opacity="0.55" stroke="#000" stroke-width="0.75"/>
<circle cx="566.70" cy="57.20" r="1.25" fill="#777" fill-opacity="0.55" stroke="#000" stroke-width="0.75"/>
<circle cx="572.50" cy="61.70" r="1.25" fill="#777" fill-opacity="0.55" stroke="#000" stroke-width="0.75"/>
<circle cx="566.20" cy="65.70" r="1.25" fill="#777" fill-opacity="0.55" stroke="#000" stroke-width="0.75"/>
<circle cx="565.80" cy="69.30" r="1.25" fill="#777" fill-opacity="0.55" stroke="#000" stroke-width="0.75"/>
<circle cx="569.80" cy="73.50" r="1.25" fill="#777" fill-opacity="0.55" stroke="#000" stroke-width="0.75"/>
<circle cx="574.30" cy="75.30" r="1.25" fill="#777" fill-opacity="0.55" stroke="#000" stroke-width="0.75"/>
<circle cx="568.50" cy="82.10" r="1.25" fill="#777" fill-opacity="0.55" stroke="#000" stroke-width="0.75"/>
<circle cx="568.00" cy="83.40" r="1.25" fill="#777" fill-opacity="0.55" stroke="#000" stroke-width="0.75"/>
<circle cx="575.70" cy="86.10" r="1.25" fill="#777" fill-opacity="0.55" stroke="#000" stroke-width="0.75"/>
<circle cx="574.30" cy="88.80" r="1.25" fill="#777" fill-opacity="0.55" stroke="#000" stroke-width="0.75"/>
<circle cx="567.00" cy="98.70" r="1.25" fill="#777" fill-opacity="0.55" stroke="#000" stroke-width="0.75"/>
<circle cx="569.80" cy="96.00" r="1.25" fill="#777" fill-opacity="0.55" stroke="#000" stroke-width="0.75"/>
<circle cx="573.00" cy="100.50" r="1.25" fill="#777" fill-opacity="0.55" stroke="#000" stroke-width="0.75"/>
<circle cx="571.50" cy="42.80" r="1.25" fill="#777" fill-opacity="0.55" stroke="#000" stroke-width="0.75"/>
<text x="0.60" y="180.30" font-size="12.50" text-anchor="start" font-weight="bold" fill="#111" letter-spacing="0.6">d)</text>
<clipPath id="dclip"><rect x="19.5" y="183.8" width="126.3" height="122.8"/></clipPath>
<path d="M19.80,234.40 C20.05,234.75 20.82,236.86 21.30,236.50 C21.78,236.14 22.20,234.65 22.66,232.25 C23.11,229.85 23.53,225.76 24.01,222.11 C24.50,218.46 25.02,213.39 25.55,210.34 C26.08,207.29 26.74,204.55 27.20,203.80 C27.66,203.05 27.93,204.76 28.30,205.82 C28.67,206.88 28.96,208.47 29.40,210.16 C29.84,211.84 30.39,214.44 30.94,215.94 C31.49,217.43 32.10,218.01 32.70,219.12 C33.30,220.22 33.98,221.19 34.57,222.59 C35.16,223.98 35.61,225.81 36.22,227.50 C36.83,229.18 37.64,232.45 38.20,232.70 C38.76,232.95 39.10,231.09 39.56,229.01 C40.01,226.93 40.43,223.38 40.91,220.20 C41.40,217.03 41.92,212.63 42.45,209.98 C42.98,207.33 43.62,204.87 44.10,204.30 C44.58,203.73 44.90,205.37 45.30,206.55 C45.70,207.73 46.02,209.51 46.50,211.38 C46.98,213.26 47.58,216.16 48.18,217.82 C48.78,219.49 49.44,220.13 50.10,221.37 C50.76,222.60 51.50,223.67 52.14,225.23 C52.78,226.79 53.28,228.83 53.94,230.70 C54.60,232.58 55.49,236.24 56.10,236.50 C56.71,236.76 57.08,234.65 57.57,232.25 C58.06,229.85 58.52,225.76 59.04,222.11 C59.57,218.46 60.13,213.39 60.71,210.34 C61.28,207.29 61.97,204.46 62.50,203.80 C63.03,203.14 63.41,205.02 63.87,206.37 C64.33,207.71 64.69,209.73 65.24,211.87 C65.79,214.01 66.47,217.32 67.16,219.21 C67.84,221.11 68.60,221.84 69.35,223.25 C70.10,224.66 70.95,225.88 71.68,227.66 C72.41,229.43 72.98,231.75 73.73,233.89 C74.49,236.03 75.53,240.21 76.20,240.50 C76.87,240.79 77.23,238.39 77.74,235.65 C78.25,232.92 78.73,228.25 79.28,224.09 C79.83,219.92 80.42,214.14 81.02,210.66 C81.63,207.18 82.33,204.00 82.90,203.20 C83.47,202.40 83.91,204.47 84.42,205.86 C84.93,207.25 85.33,209.34 85.94,211.56 C86.55,213.78 87.31,217.20 88.07,219.16 C88.83,221.12 89.66,221.88 90.50,223.34 C91.34,224.80 92.27,226.06 93.08,227.90 C93.89,229.74 94.53,232.14 95.36,234.36 C96.20,236.58 97.40,240.92 98.10,241.20 C98.80,241.48 99.07,238.95 99.55,236.04 C100.03,233.13 100.48,228.17 101.00,223.73 C101.51,219.30 102.07,213.15 102.64,209.44 C103.20,205.73 103.89,202.37 104.40,201.50 C104.91,200.63 105.25,202.79 105.67,204.20 C106.09,205.62 106.43,207.74 106.94,209.99 C107.45,212.24 108.08,215.72 108.72,217.71 C109.35,219.71 110.05,220.48 110.75,221.96 C111.45,223.44 112.23,224.72 112.91,226.59 C113.59,228.46 114.12,230.90 114.81,233.15 C115.51,235.40 116.45,239.76 117.10,240.10 C117.75,240.44 118.16,237.95 118.69,235.17 C119.22,232.39 119.71,227.66 120.27,223.42 C120.84,219.19 121.45,213.32 122.07,209.78 C122.69,206.24 123.48,203.04 124.00,202.20 C124.52,201.36 124.77,203.41 125.16,204.75 C125.55,206.08 125.86,208.08 126.32,210.21 C126.78,212.33 127.36,215.61 127.94,217.49 C128.52,219.37 129.16,220.10 129.80,221.49 C130.44,222.89 131.15,224.10 131.77,225.86 C132.39,227.62 132.87,229.92 133.51,232.05 C134.15,234.17 134.99,238.30 135.60,238.60 C136.21,238.90 136.64,236.54 137.16,233.87 C137.69,231.20 138.17,226.65 138.73,222.58 C139.28,218.52 139.88,212.88 140.50,209.48 C141.11,206.08 141.52,202.20 142.40,202.20 C143.28,202.20 145.23,208.28 145.80,209.50" stroke="#1464f4" stroke-width="1.50" fill="none" stroke-linejoin="round" stroke-linecap="round" clip-path="url(#dclip)"/>
<path d="M19.60,260.00 C20.07,258.95 21.81,254.48 22.40,253.70 C22.99,252.92 22.89,254.47 23.14,255.32 C23.39,256.17 23.58,257.45 23.88,258.80 C24.18,260.16 24.55,262.25 24.92,263.44 C25.29,264.64 25.69,265.11 26.10,266.00 C26.51,266.89 26.96,267.66 27.36,268.78 C27.75,269.90 28.06,271.37 28.47,272.72 C28.88,274.08 29.38,276.63 29.80,276.90 C30.22,277.17 30.60,275.79 31.00,274.35 C31.39,272.91 31.77,270.46 32.19,268.28 C32.62,266.09 33.08,263.05 33.54,261.22 C34.01,259.39 34.59,257.72 35.00,257.30 C35.41,256.88 35.67,257.98 36.00,258.72 C36.33,259.47 36.60,260.58 37.00,261.77 C37.40,262.95 37.90,264.78 38.40,265.83 C38.90,266.87 39.45,267.28 40.00,268.06 C40.55,268.84 41.17,269.51 41.70,270.50 C42.23,271.48 42.65,272.76 43.20,273.95 C43.75,275.13 44.55,277.40 45.00,277.60 C45.45,277.80 45.58,276.52 45.87,275.13 C46.17,273.74 46.44,271.36 46.75,269.24 C47.06,267.12 47.39,264.17 47.74,262.40 C48.08,260.63 48.45,259.00 48.80,258.60 C49.15,258.20 49.50,259.28 49.85,260.03 C50.20,260.78 50.48,261.90 50.90,263.09 C51.32,264.28 51.84,266.11 52.37,267.17 C52.89,268.22 53.47,268.63 54.05,269.41 C54.63,270.19 55.27,270.87 55.83,271.86 C56.39,272.85 56.83,274.14 57.41,275.33 C57.99,276.52 58.78,278.86 59.30,279.00 C59.82,279.14 60.11,277.77 60.52,276.18 C60.93,274.59 61.31,271.88 61.74,269.45 C62.17,267.03 62.64,263.67 63.12,261.64 C63.59,259.61 64.18,257.70 64.60,257.30 C65.02,256.90 65.27,258.22 65.61,259.23 C65.95,260.24 66.22,261.76 66.62,263.37 C67.02,264.98 67.53,267.47 68.03,268.89 C68.54,270.32 69.09,270.87 69.65,271.93 C70.21,272.99 70.83,273.91 71.37,275.24 C71.91,276.57 72.33,278.32 72.88,279.93 C73.44,281.54 74.22,284.73 74.70,284.90 C75.18,285.06 75.41,283.17 75.76,280.92 C76.11,278.68 76.44,274.85 76.82,271.44 C77.19,268.02 77.60,263.28 78.01,260.42 C78.43,257.56 78.89,254.99 79.30,254.30 C79.71,253.61 80.07,255.23 80.46,256.25 C80.85,257.28 81.16,258.81 81.62,260.44 C82.08,262.07 82.66,264.58 83.24,266.02 C83.82,267.46 84.46,268.02 85.10,269.09 C85.74,270.16 86.45,271.09 87.07,272.44 C87.69,273.78 88.17,275.55 88.81,277.18 C89.45,278.81 90.39,281.87 90.90,282.20 C91.41,282.53 91.54,280.86 91.87,279.13 C92.19,277.40 92.49,274.45 92.83,271.82 C93.17,269.18 93.55,265.52 93.92,263.32 C94.30,261.12 94.74,259.16 95.10,258.60 C95.46,258.04 95.76,259.25 96.09,259.96 C96.42,260.67 96.68,261.74 97.08,262.87 C97.48,264.00 97.97,265.75 98.47,266.75 C98.96,267.75 99.51,268.14 100.05,268.88 C100.59,269.63 101.20,270.27 101.73,271.21 C102.26,272.15 102.67,273.38 103.22,274.51 C103.76,275.64 104.48,277.85 105.00,278.00 C105.52,278.15 105.87,276.86 106.31,275.39 C106.75,273.91 107.16,271.40 107.62,269.16 C108.09,266.91 108.59,263.80 109.10,261.92 C109.62,260.04 110.31,258.35 110.70,257.90 C111.09,257.45 111.19,258.53 111.44,259.23 C111.69,259.93 111.88,260.97 112.18,262.08 C112.48,263.19 112.85,264.90 113.22,265.88 C113.59,266.86 113.99,267.24 114.40,267.97 C114.81,268.70 115.26,269.33 115.66,270.25 C116.05,271.17 116.36,272.37 116.77,273.48 C117.17,274.59 117.65,276.81 118.10,276.90 C118.55,276.99 119.00,275.65 119.46,274.03 C119.91,272.41 120.33,269.64 120.81,267.18 C121.30,264.71 121.82,261.28 122.35,259.22 C122.88,257.16 123.55,255.23 124.00,254.80 C124.45,254.37 124.71,255.68 125.06,256.64 C125.41,257.61 125.70,259.05 126.12,260.59 C126.54,262.12 127.07,264.49 127.60,265.85 C128.13,267.20 128.72,267.73 129.30,268.74 C129.88,269.75 130.54,270.62 131.10,271.90 C131.67,273.17 132.11,274.83 132.69,276.37 C133.28,277.90 134.08,280.93 134.60,281.10 C135.12,281.27 135.41,279.49 135.82,277.41 C136.23,275.33 136.61,271.78 137.04,268.60 C137.47,265.43 137.94,261.03 138.42,258.38 C138.89,255.73 139.24,251.55 139.90,252.70 C140.56,253.85 141.63,263.92 142.40,265.30 C143.17,266.68 143.93,262.13 144.50,261.00 C145.07,259.87 145.58,258.92 145.80,258.50" stroke="#c3d8f8" stroke-width="1.30" fill="none" stroke-linejoin="round" stroke-linecap="round" clip-path="url(#dclip)"/>
<path d="M19.60,260.00 C20.07,258.95 21.81,254.48 22.40,253.70 C22.99,252.92 22.89,254.47 23.14,255.32 C23.39,256.17 23.58,257.45 23.88,258.80 C24.18,260.16 24.55,262.25 24.92,263.44 C25.29,264.64 25.69,265.11 26.10,266.00 C26.51,266.89 26.96,267.66 27.36,268.78 C27.75,269.90 28.06,271.37 28.47,272.72 C28.88,274.08 29.38,276.63 29.80,276.90 C30.22,277.17 30.60,275.79 31.00,274.35 C31.39,272.91 31.77,270.46 32.19,268.28 C32.62,266.09 33.08,263.05 33.54,261.22 C34.01,259.39 34.59,257.72 35.00,257.30 C35.41,256.88 35.67,257.98 36.00,258.72 C36.33,259.47 36.60,260.58 37.00,261.77 C37.40,262.95 37.90,264.78 38.40,265.83 C38.90,266.87 39.45,267.28 40.00,268.06 C40.55,268.84 41.17,269.51 41.70,270.50 C42.23,271.48 42.65,272.76 43.20,273.95 C43.75,275.13 44.55,277.40 45.00,277.60 C45.45,277.80 45.58,276.52 45.87,275.13 C46.17,273.74 46.44,271.36 46.75,269.24 C47.06,267.12 47.39,264.17 47.74,262.40 C48.08,260.63 48.45,259.00 48.80,258.60 C49.15,258.20 49.50,259.28 49.85,260.03 C50.20,260.78 50.48,261.90 50.90,263.09 C51.32,264.28 51.84,266.11 52.37,267.17 C52.89,268.22 53.47,268.63 54.05,269.41 C54.63,270.19 55.27,270.87 55.83,271.86 C56.39,272.85 56.83,274.14 57.41,275.33 C57.99,276.52 58.78,278.86 59.30,279.00 C59.82,279.14 60.11,277.77 60.52,276.18 C60.93,274.59 61.31,271.88 61.74,269.45 C62.17,267.03 62.64,263.67 63.12,261.64 C63.59,259.61 64.18,257.70 64.60,257.30 C65.02,256.90 65.27,258.22 65.61,259.23 C65.95,260.24 66.22,261.76 66.62,263.37 C67.02,264.98 67.53,267.47 68.03,268.89 C68.54,270.32 69.09,270.87 69.65,271.93 C70.21,272.99 70.83,273.91 71.37,275.24 C71.91,276.57 72.33,278.32 72.88,279.93 C73.44,281.54 74.22,284.73 74.70,284.90 C75.18,285.06 75.41,283.17 75.76,280.92 C76.11,278.68 76.44,274.85 76.82,271.44 C77.19,268.02 77.60,263.28 78.01,260.42 C78.43,257.56 78.89,254.99 79.30,254.30 C79.71,253.61 80.07,255.23 80.46,256.25 C80.85,257.28 81.16,258.81 81.62,260.44 C82.08,262.07 82.66,264.58 83.24,266.02 C83.82,267.46 84.46,268.02 85.10,269.09 C85.74,270.16 86.45,271.09 87.07,272.44 C87.69,273.78 88.17,275.55 88.81,277.18 C89.45,278.81 90.39,281.87 90.90,282.20 C91.41,282.53 91.54,280.86 91.87,279.13 C92.19,277.40 92.49,274.45 92.83,271.82 C93.17,269.18 93.55,265.52 93.92,263.32 C94.30,261.12 94.74,259.16 95.10,258.60 C95.46,258.04 95.76,259.25 96.09,259.96 C96.42,260.67 96.68,261.74 97.08,262.87 C97.48,264.00 97.97,265.75 98.47,266.75 C98.96,267.75 99.51,268.14 100.05,268.88 C100.59,269.63 101.20,270.27 101.73,271.21 C102.26,272.15 102.67,273.38 103.22,274.51 C103.76,275.64 104.48,277.85 105.00,278.00 C105.52,278.15 105.87,276.86 106.31,275.39 C106.75,273.91 107.16,271.40 107.62,269.16 C108.09,266.91 108.59,263.80 109.10,261.92 C109.62,260.04 110.31,258.35 110.70,257.90 C111.09,257.45 111.19,258.53 111.44,259.23 C111.69,259.93 111.88,260.97 112.18,262.08 C112.48,263.19 112.85,264.90 113.22,265.88 C113.59,266.86 113.99,267.24 114.40,267.97 C114.81,268.70 115.26,269.33 115.66,270.25 C116.05,271.17 116.36,272.37 116.77,273.48 C117.17,274.59 117.65,276.81 118.10,276.90 C118.55,276.99 119.00,275.65 119.46,274.03 C119.91,272.41 120.33,269.64 120.81,267.18 C121.30,264.71 121.82,261.28 122.35,259.22 C122.88,257.16 123.55,255.23 124.00,254.80 C124.45,254.37 124.71,255.68 125.06,256.64 C125.41,257.61 125.70,259.05 126.12,260.59 C126.54,262.12 127.07,264.49 127.60,265.85 C128.13,267.20 128.72,267.73 129.30,268.74 C129.88,269.75 130.54,270.62 131.10,271.90 C131.67,273.17 132.11,274.83 132.69,276.37 C133.28,277.90 134.08,280.93 134.60,281.10 C135.12,281.27 135.41,279.49 135.82,277.41 C136.23,275.33 136.61,271.78 137.04,268.60 C137.47,265.43 137.94,261.03 138.42,258.38 C138.89,255.73 139.24,251.55 139.90,252.70 C140.56,253.85 141.63,263.92 142.40,265.30 C143.17,266.68 143.93,262.13 144.50,261.00 C145.07,259.87 145.58,258.92 145.80,258.50" stroke="#6a9df0" stroke-width="1.35" fill="none" stroke-linejoin="round" stroke-linecap="butt" stroke-dasharray="2.0,0.8" clip-path="url(#dclip)"/>
<rect x="19.50" y="183.80" width="126.30" height="122.80" fill="none" stroke="#222" stroke-width="1.2"/>
<line x1="14.00" y1="189.50" x2="19.50" y2="189.50" stroke="#222" stroke-width="1.10" />
<line x1="14.00" y1="205.30" x2="19.50" y2="205.30" stroke="#222" stroke-width="1.10" />
<line x1="14.00" y1="221.00" x2="19.50" y2="221.00" stroke="#222" stroke-width="1.10" />
<line x1="14.00" y1="236.40" x2="19.50" y2="236.40" stroke="#222" stroke-width="1.10" />
<line x1="14.00" y1="252.00" x2="19.50" y2="252.00" stroke="#222" stroke-width="1.10" />
<line x1="14.00" y1="267.20" x2="19.50" y2="267.20" stroke="#222" stroke-width="1.10" />
<line x1="14.00" y1="282.20" x2="19.50" y2="282.20" stroke="#222" stroke-width="1.10" />
<line x1="14.00" y1="297.20" x2="19.50" y2="297.20" stroke="#222" stroke-width="1.10" />
<line x1="19.40" y1="306.60" x2="19.40" y2="309.90" stroke="#222" stroke-width="1.10" />
<text x="19.40" y="320.90" font-size="6.30" text-anchor="middle" font-weight="normal" fill="#111" stroke="#111" stroke-width="0.20" >0</text>
<line x1="40.40" y1="306.60" x2="40.40" y2="309.90" stroke="#222" stroke-width="1.10" />
<text x="40.40" y="320.90" font-size="6.30" text-anchor="middle" font-weight="normal" fill="#111" stroke="#111" stroke-width="0.20" >25</text>
<line x1="61.40" y1="306.60" x2="61.40" y2="309.90" stroke="#222" stroke-width="1.10" />
<text x="61.40" y="320.90" font-size="6.30" text-anchor="middle" font-weight="normal" fill="#111" stroke="#111" stroke-width="0.20" >50</text>
<line x1="82.40" y1="306.60" x2="82.40" y2="309.90" stroke="#222" stroke-width="1.10" />
<text x="82.40" y="320.90" font-size="6.30" text-anchor="middle" font-weight="normal" fill="#111" stroke="#111" stroke-width="0.20" >75</text>
<line x1="103.40" y1="306.60" x2="103.40" y2="309.90" stroke="#222" stroke-width="1.10" />
<text x="103.40" y="320.90" font-size="6.30" text-anchor="middle" font-weight="normal" fill="#111" stroke="#111" stroke-width="0.20" >100</text>
<line x1="124.40" y1="306.60" x2="124.40" y2="309.90" stroke="#222" stroke-width="1.10" />
<text x="124.40" y="320.90" font-size="6.30" text-anchor="middle" font-weight="normal" fill="#111" stroke="#111" stroke-width="0.20" >125</text>
<line x1="145.40" y1="306.60" x2="145.40" y2="309.90" stroke="#222" stroke-width="1.10" />
<text x="145.40" y="320.90" font-size="6.30" text-anchor="middle" font-weight="normal" fill="#111" stroke="#111" stroke-width="0.20" >150</text>
<text x="82.40" y="330.80" font-size="6.40" text-anchor="middle" font-weight="normal" fill="#111" stroke="#111" stroke-width="0.20" >Video Frame Number</text>
<text x="0.00" y="0.00" font-size="6.50" text-anchor="middle" font-weight="normal" fill="#111" stroke="#111" stroke-width="0.20" transform="translate(9.8,244.6) rotate(-90)">Y-AXis Pixel Coordinates</text>
<line x1="22.10" y1="188.10" x2="34.80" y2="188.10" stroke="#1464f4" stroke-width="1.50" />
<line x1="22.10" y1="196.60" x2="34.80" y2="196.60" stroke="#c3d8f8" stroke-width="1.30" />
<line x1="22.10" y1="196.60" x2="34.80" y2="196.60" stroke="#6a9df0" stroke-width="1.35" stroke-dasharray="2.0,0.8"/>
<text x="39.20" y="190.30" font-size="5.92" text-anchor="start" font-weight="normal" fill="#111" stroke="#111" stroke-width="0.20" >Right Arm (Pre-injury)</text>
<text x="39.20" y="198.80" font-size="5.92" text-anchor="start" font-weight="normal" fill="#111" stroke="#111" stroke-width="0.20" >Right Arm (Post-injury)</text>
<text x="92.40" y="288.00" font-size="6.30" text-anchor="start" font-weight="normal" fill="#111" stroke="#111" stroke-width="0.20" >Video Frames, 25</text>
<text x="90.30" y="299.50" font-size="6.30" text-anchor="start" font-weight="normal" fill="#111" stroke="#111" stroke-width="0.20" >Pixels, 50</text>
<polyline points="121.0,304.3 121.0,290.0 141.5,290.0" fill="none" stroke="#222" stroke-width="1.0"/>
<text x="152.80" y="180.00" font-size="12.50" text-anchor="start" font-weight="bold" fill="#111" letter-spacing="0.6">e)</text>
<rect x="167.60" y="183.60" width="126.00" height="122.80" fill="#f0f0f0" />
<rect x="189.20" y="217.00" width="15.10" height="26.00" fill="#8ed5c4" />
<rect x="204.30" y="217.00" width="34.60" height="29.40" fill="#968ad0" />
<rect x="210.20" y="265.20" width="18.60" height="26.90" fill="#8ed5c4" />
<rect x="228.80" y="265.20" width="34.90" height="32.60" fill="#968ad0" />
<clipPath id="eclip"><rect x="167.6" y="183.6" width="126.0" height="122.8"/></clipPath>
<path d="M167.60,225.30 C168.60,225.72 171.65,226.60 173.60,227.80 C175.55,229.00 177.40,230.60 179.30,232.50 C181.20,234.40 183.35,237.55 185.00,239.20 C186.65,240.85 187.93,242.40 189.20,242.40 C190.47,242.40 191.25,241.63 192.60,239.20 C193.95,236.77 195.88,230.97 197.30,227.80 C198.72,224.63 199.90,221.85 201.10,220.20 C202.30,218.55 203.23,217.90 204.50,217.90 C205.77,217.90 207.05,218.72 208.70,220.20 C210.35,221.68 212.50,225.07 214.40,226.80 C216.30,228.53 218.05,229.33 220.10,230.60 C222.15,231.87 224.65,232.82 226.70,234.40 C228.75,235.98 230.50,238.20 232.40,240.10 C234.30,242.00 236.52,245.32 238.10,245.80 C239.68,246.28 240.63,245.37 241.90,243.00 C243.17,240.63 244.43,235.08 245.70,231.60 C246.97,228.12 248.07,224.38 249.50,222.10 C250.93,219.82 252.72,218.07 254.30,217.90 C255.88,217.73 257.27,219.45 259.00,221.10 C260.73,222.75 262.48,225.90 264.70,227.80 C266.92,229.70 269.77,230.92 272.30,232.50 C274.83,234.08 277.37,235.23 279.90,237.30 C282.43,239.37 285.22,242.90 287.50,244.90 C289.78,246.90 292.58,248.57 293.60,249.30" stroke="#1464f4" stroke-width="1.35" fill="none" stroke-linejoin="round" stroke-linecap="round" clip-path="url(#eclip)"/>
<path d="M167.60,295.30 C168.03,294.72 169.05,294.60 170.20,291.80 C171.35,289.00 172.98,282.78 174.50,278.50 C176.02,274.22 177.80,268.85 179.30,266.10 C180.80,263.35 182.08,262.15 183.50,262.00 C184.92,261.85 186.13,263.08 187.80,265.20 C189.47,267.32 191.43,271.85 193.50,274.70 C195.57,277.55 197.98,279.93 200.20,282.30 C202.42,284.67 204.97,287.32 206.80,288.90 C208.63,290.48 209.93,291.80 211.20,291.80 C212.47,291.80 213.08,291.12 214.40,288.90 C215.72,286.68 217.52,281.82 219.10,278.50 C220.68,275.18 222.25,271.12 223.90,269.00 C225.55,266.88 227.27,265.65 229.00,265.80 C230.73,265.95 232.15,267.78 234.30,269.90 C236.45,272.02 239.37,275.65 241.90,278.50 C244.43,281.35 246.97,284.47 249.50,287.00 C252.03,289.53 254.88,291.97 257.10,293.70 C259.32,295.43 261.22,297.40 262.80,297.40 C264.38,297.40 265.18,296.85 266.60,293.70 C268.02,290.55 269.72,282.93 271.30,278.50 C272.88,274.07 274.45,270.02 276.10,267.10 C277.75,264.18 279.62,261.48 281.20,261.00 C282.78,260.52 283.53,261.78 285.60,264.20 C287.67,266.62 292.27,273.62 293.60,275.50" stroke="#d9308a" stroke-width="1.35" fill="none" stroke-linejoin="round" stroke-linecap="round" clip-path="url(#eclip)"/>
<line x1="199.20" y1="224.40" x2="211.50" y2="224.40" stroke="#111" stroke-width="1.30" />
<line x1="249.50" y1="224.40" x2="262.40" y2="224.40" stroke="#111" stroke-width="1.30" />
<line x1="218.20" y1="270.30" x2="235.30" y2="262.00" stroke="#1a8a1a" stroke-width="1.50" />
<line x1="272.30" y1="269.50" x2="284.60" y2="255.10" stroke="#1a8a1a" stroke-width="1.50" />
<rect x="167.60" y="183.60" width="126.00" height="122.80" fill="none" stroke="#444" stroke-width="1.3"/>
<line x1="167.60" y1="306.40" x2="293.60" y2="306.40" stroke="#222" stroke-width="1.30" />
<line x1="167.90" y1="306.40" x2="167.90" y2="308.90" stroke="#222" stroke-width="1.10" />
<text x="167.90" y="320.50" font-size="6.30" text-anchor="middle" font-weight="normal" fill="#111" stroke="#111" stroke-width="0.20" >35</text>
<line x1="198.65" y1="306.40" x2="198.65" y2="308.90" stroke="#222" stroke-width="1.10" />
<text x="198.65" y="320.50" font-size="6.30" text-anchor="middle" font-weight="normal" fill="#111" stroke="#111" stroke-width="0.20" >45</text>
<line x1="229.40" y1="306.40" x2="229.40" y2="308.90" stroke="#222" stroke-width="1.10" />
<text x="229.40" y="320.50" font-size="6.30" text-anchor="middle" font-weight="normal" fill="#111" stroke="#111" stroke-width="0.20" >55</text>
<line x1="260.15" y1="306.40" x2="260.15" y2="308.90" stroke="#222" stroke-width="1.10" />
<text x="260.15" y="320.50" font-size="6.30" text-anchor="middle" font-weight="normal" fill="#111" stroke="#111" stroke-width="0.20" >65</text>
<line x1="290.90" y1="306.40" x2="290.90" y2="308.90" stroke="#222" stroke-width="1.10" />
<text x="290.90" y="320.50" font-size="6.30" text-anchor="middle" font-weight="normal" fill="#111" stroke="#111" stroke-width="0.20" >75</text>
<text x="230.80" y="330.90" font-size="6.40" text-anchor="middle" font-weight="normal" fill="#111" stroke="#111" stroke-width="0.20" >Video Frame Number</text>
<text x="0.00" y="0.00" font-size="6.50" text-anchor="middle" font-weight="normal" fill="#111" stroke="#111" stroke-width="0.20" transform="translate(156.9,244.9) rotate(-90)">Y-Axis Pixel Coordinates</text>
<line x1="170.80" y1="187.60" x2="184.10" y2="187.60" stroke="#000" stroke-width="1.25" />
<line x1="170.80" y1="196.50" x2="184.10" y2="196.50" stroke="#139013" stroke-width="1.25" />
<text x="186.50" y="190.30" font-size="5.92" text-anchor="start" font-weight="normal" fill="#111" stroke="#111" stroke-width="0.20" >Full Width at Half Maximum</text>
<text x="186.50" y="199.20" font-size="5.92" text-anchor="start" font-weight="normal" fill="#111" stroke="#111" stroke-width="0.20" >First Derivative (Velocity)</text>
<rect x="262.40" y="186.00" width="10.90" height="4.00" fill="#8ed5c4" />
<rect x="262.40" y="194.60" width="10.90" height="4.20" fill="#968ad0" />
<text x="275.20" y="190.30" font-size="5.92" text-anchor="start" font-weight="normal" fill="#111" stroke="#111" stroke-width="0.20" >Reach</text>
<text x="275.20" y="199.20" font-size="5.92" text-anchor="start" font-weight="normal" fill="#111" stroke="#111" stroke-width="0.20" >Pull</text>
<text x="305.40" y="179.60" font-size="12.50" text-anchor="start" font-weight="bold" fill="#111" letter-spacing="0.6">f)</text>
<rect x="309.50" y="185.70" width="374.60" height="67.70" fill="#c1dbfe" />
<rect x="309.50" y="253.40" width="374.60" height="67.00" fill="#f6cce1" />
<text x="371.00" y="195.50" font-size="7.05" text-anchor="middle" font-weight="normal" fill="#111" stroke="#111" stroke-width="0.20" >Baseline</text>
<rect x="347.40" y="222.22" width="2.68" height="3.58" fill="#f5c27e" fill-opacity="0.85"/>
<rect x="350.07" y="203.02" width="3.24" height="22.79" fill="#f5c27e" fill-opacity="0.85"/>
<rect x="353.32" y="210.46" width="2.54" height="15.35" fill="#f5c27e" fill-opacity="0.85"/>
<rect x="355.86" y="220.69" width="2.82" height="5.12" fill="#f5c27e" fill-opacity="0.85"/>
<rect x="358.68" y="224.87" width="6.20" height="0.93" fill="#f5c27e" fill-opacity="0.85"/>
<rect x="350.07" y="209.53" width="3.24" height="16.27" fill="#8a8a8a" fill-opacity="0.60"/>
<rect x="353.32" y="209.53" width="2.54" height="16.27" fill="#8a8a8a" fill-opacity="0.60"/>
<rect x="355.86" y="220.45" width="2.82" height="5.35" fill="#8a8a8a" fill-opacity="0.60"/>
<rect x="358.68" y="224.87" width="6.20" height="0.93" fill="#8a8a8a" fill-opacity="0.60"/>
<rect x="364.88" y="225.57" width="5.64" height="0.23" fill="#8a8a8a" fill-opacity="0.60"/>
<line x1="339.50" y1="201.60" x2="339.50" y2="225.80" stroke="#222" stroke-width="1.00" />
<line x1="334.90" y1="225.80" x2="395.50" y2="225.80" stroke="#222" stroke-width="1.00" />
<line x1="334.90" y1="202.80" x2="339.50" y2="202.80" stroke="#222" stroke-width="1.00" />
<line x1="339.50" y1="225.80" x2="339.50" y2="229.80" stroke="#222" stroke-width="1.00" />
<text x="339.80" y="237.00" font-size="5.10" text-anchor="middle" font-weight="normal" fill="#111" stroke="#111" stroke-width="0.06" >0</text>
<line x1="367.50" y1="225.80" x2="367.50" y2="229.80" stroke="#222" stroke-width="1.00" />
<text x="367.80" y="237.00" font-size="5.10" text-anchor="middle" font-weight="normal" fill="#111" stroke="#111" stroke-width="0.06" >10</text>
<line x1="395.50" y1="225.80" x2="395.50" y2="229.80" stroke="#222" stroke-width="1.00" />
<text x="395.80" y="237.00" font-size="5.10" text-anchor="middle" font-weight="normal" fill="#111" stroke="#111" stroke-width="0.06" >20</text>
<text x="368.00" y="246.00" font-size="6.30" text-anchor="middle" font-weight="normal" fill="#111" stroke="#111" stroke-width="0.20" >FWHM (a.u.)</text>
<text x="333.50" y="204.60" font-size="4.75" text-anchor="end" font-weight="normal" fill="#111" stroke="#111" stroke-width="0.06" >0.5</text>
<text x="333.50" y="227.40" font-size="4.75" text-anchor="end" font-weight="normal" fill="#111" stroke="#111" stroke-width="0.06" >0.0</text>
<text x="0.00" y="0.00" font-size="5.20" text-anchor="middle" font-weight="normal" fill="#111" stroke="#111" stroke-width="0.06" transform="translate(320.2,213.6) rotate(-90)">Density</text>
<text x="438.40" y="195.50" font-size="7.05" text-anchor="middle" font-weight="normal" fill="#111" stroke="#111" stroke-width="0.20" >Week 1</text>
<rect x="410.37" y="225.34" width="8.74" height="0.47" fill="#f5c27e" fill-opacity="0.85"/>
<rect x="419.12" y="223.48" width="2.82" height="2.33" fill="#f5c27e" fill-opacity="0.85"/>
<rect x="421.94" y="221.62" width="2.82" height="4.18" fill="#f5c27e" fill-opacity="0.85"/>
<rect x="424.76" y="219.29" width="3.10" height="6.51" fill="#f5c27e" fill-opacity="0.85"/>
<rect x="427.86" y="217.43" width="2.54" height="8.37" fill="#f5c27e" fill-opacity="0.85"/>
<rect x="430.40" y="218.83" width="3.10" height="6.97" fill="#f5c27e" fill-opacity="0.85"/>
<rect x="433.50" y="219.76" width="2.82" height="6.04" fill="#f5c27e" fill-opacity="0.85"/>
<rect x="436.32" y="220.69" width="2.82" height="5.12" fill="#f5c27e" fill-opacity="0.85"/>
<rect x="439.14" y="223.48" width="2.54" height="2.33" fill="#f5c27e" fill-opacity="0.85"/>
<rect x="441.68" y="224.87" width="3.38" height="0.93" fill="#f5c27e" fill-opacity="0.85"/>
<rect x="445.06" y="225.34" width="2.82" height="0.47" fill="#f5c27e" fill-opacity="0.85"/>
<rect x="410.37" y="225.34" width="8.74" height="0.47" fill="#8a8a8a" fill-opacity="0.60"/>
<rect x="419.12" y="221.38" width="2.82" height="4.42" fill="#8a8a8a" fill-opacity="0.60"/>
<rect x="421.94" y="222.08" width="2.82" height="3.72" fill="#8a8a8a" fill-opacity="0.60"/>
<rect x="424.76" y="221.15" width="3.10" height="4.65" fill="#8a8a8a" fill-opacity="0.60"/>
<rect x="427.86" y="218.36" width="2.54" height="7.44" fill="#8a8a8a" fill-opacity="0.60"/>
<rect x="430.40" y="216.97" width="3.10" height="8.84" fill="#8a8a8a" fill-opacity="0.60"/>
<rect x="433.50" y="219.29" width="2.82" height="6.51" fill="#8a8a8a" fill-opacity="0.60"/>
<rect x="436.32" y="221.62" width="2.82" height="4.18" fill="#8a8a8a" fill-opacity="0.60"/>
<rect x="439.14" y="224.41" width="2.54" height="1.40" fill="#8a8a8a" fill-opacity="0.60"/>
<rect x="441.68" y="224.87" width="3.38" height="0.93" fill="#8a8a8a" fill-opacity="0.60"/>
<rect x="445.06" y="225.57" width="8.46" height="0.23" fill="#8a8a8a" fill-opacity="0.60"/>
<line x1="408.40" y1="201.60" x2="408.40" y2="225.80" stroke="#222" stroke-width="1.00" />
<line x1="403.80" y1="225.80" x2="464.40" y2="225.80" stroke="#222" stroke-width="1.00" />
<line x1="403.80" y1="202.80" x2="408.40" y2="202.80" stroke="#222" stroke-width="1.00" />
<line x1="408.40" y1="225.80" x2="408.40" y2="229.80" stroke="#222" stroke-width="1.00" />
<text x="408.70" y="237.00" font-size="5.10" text-anchor="middle" font-weight="normal" fill="#111" stroke="#111" stroke-width="0.06" >0</text>
<line x1="436.40" y1="225.80" x2="436.40" y2="229.80" stroke="#222" stroke-width="1.00" />
<text x="436.70" y="237.00" font-size="5.10" text-anchor="middle" font-weight="normal" fill="#111" stroke="#111" stroke-width="0.06" >10</text>
<line x1="464.40" y1="225.80" x2="464.40" y2="229.80" stroke="#222" stroke-width="1.00" />
<text x="464.70" y="237.00" font-size="5.10" text-anchor="middle" font-weight="normal" fill="#111" stroke="#111" stroke-width="0.06" >20</text>
<text x="436.90" y="246.00" font-size="6.30" text-anchor="middle" font-weight="normal" fill="#111" stroke="#111" stroke-width="0.20" >FWHM (a.u.)</text>
<text x="507.30" y="195.50" font-size="7.05" text-anchor="middle" font-weight="normal" fill="#111" stroke="#111" stroke-width="0.20" >Week 2</text>
<rect x="480.12" y="225.34" width="5.36" height="0.47" fill="#f5c27e" fill-opacity="0.85"/>
<rect x="485.48" y="224.41" width="2.54" height="1.40" fill="#f5c27e" fill-opacity="0.85"/>
<rect x="488.02" y="222.31" width="3.10" height="3.49" fill="#f5c27e" fill-opacity="0.85"/>
<rect x="491.12" y="222.31" width="2.82" height="3.49" fill="#f5c27e" fill-opacity="0.85"/>
<rect x="493.94" y="219.29" width="2.82" height="6.51" fill="#f5c27e" fill-opacity="0.85"/>
<rect x="496.76" y="218.36" width="6.20" height="7.44" fill="#f5c27e" fill-opacity="0.85"/>
<rect x="502.96" y="219.29" width="3.10" height="6.51" fill="#f5c27e" fill-opacity="0.85"/>
<rect x="506.06" y="220.69" width="2.54" height="5.12" fill="#f5c27e" fill-opacity="0.85"/>
<rect x="508.60" y="223.94" width="3.10" height="1.86" fill="#f5c27e" fill-opacity="0.85"/>
<rect x="511.70" y="224.87" width="5.08" height="0.93" fill="#f5c27e" fill-opacity="0.85"/>
<rect x="516.78" y="225.34" width="5.64" height="0.47" fill="#f5c27e" fill-opacity="0.85"/>
<rect x="480.12" y="225.34" width="5.36" height="0.47" fill="#8a8a8a" fill-opacity="0.60"/>
<rect x="485.48" y="225.34" width="2.54" height="0.47" fill="#8a8a8a" fill-opacity="0.60"/>
<rect x="488.02" y="222.78" width="3.10" height="3.02" fill="#8a8a8a" fill-opacity="0.60"/>
<rect x="491.12" y="222.31" width="2.82" height="3.49" fill="#8a8a8a" fill-opacity="0.60"/>
<rect x="493.94" y="219.29" width="2.82" height="6.51" fill="#8a8a8a" fill-opacity="0.60"/>
<rect x="496.76" y="217.43" width="6.20" height="8.37" fill="#8a8a8a" fill-opacity="0.60"/>
<rect x="502.96" y="219.76" width="3.10" height="6.04" fill="#8a8a8a" fill-opacity="0.60"/>
<rect x="506.06" y="223.24" width="2.54" height="2.56" fill="#8a8a8a" fill-opacity="0.60"/>
<rect x="508.60" y="223.48" width="3.10" height="2.33" fill="#8a8a8a" fill-opacity="0.60"/>
<rect x="511.70" y="223.71" width="5.08" height="2.09" fill="#8a8a8a" fill-opacity="0.60"/>
<rect x="516.78" y="225.34" width="5.64" height="0.47" fill="#8a8a8a" fill-opacity="0.60"/>
<line x1="477.30" y1="201.60" x2="477.30" y2="225.80" stroke="#222" stroke-width="1.00" />
<line x1="472.70" y1="225.80" x2="533.30" y2="225.80" stroke="#222" stroke-width="1.00" />
<line x1="472.70" y1="202.80" x2="477.30" y2="202.80" stroke="#222" stroke-width="1.00" />
<line x1="477.30" y1="225.80" x2="477.30" y2="229.80" stroke="#222" stroke-width="1.00" />
<text x="477.60" y="237.00" font-size="5.10" text-anchor="middle" font-weight="normal" fill="#111" stroke="#111" stroke-width="0.06" >0</text>
<line x1="505.30" y1="225.80" x2="505.30" y2="229.80" stroke="#222" stroke-width="1.00" />
<text x="505.60" y="237.00" font-size="5.10" text-anchor="middle" font-weight="normal" fill="#111" stroke="#111" stroke-width="0.06" >10</text>
<line x1="533.30" y1="225.80" x2="533.30" y2="229.80" stroke="#222" stroke-width="1.00" />
<text x="533.60" y="237.00" font-size="5.10" text-anchor="middle" font-weight="normal" fill="#111" stroke="#111" stroke-width="0.06" >20</text>
<text x="505.80" y="246.00" font-size="6.30" text-anchor="middle" font-weight="normal" fill="#111" stroke="#111" stroke-width="0.20" >FWHM (a.u.)</text>
<text x="576.20" y="195.50" font-size="7.05" text-anchor="middle" font-weight="normal" fill="#111" stroke="#111" stroke-width="0.20" >Week 3</text>
<rect x="549.02" y="224.87" width="5.36" height="0.93" fill="#f5c27e" fill-opacity="0.85"/>
<rect x="554.38" y="225.34" width="2.54" height="0.47" fill="#f5c27e" fill-opacity="0.85"/>
<rect x="556.92" y="224.41" width="3.10" height="1.40" fill="#f5c27e" fill-opacity="0.85"/>
<rect x="560.02" y="220.69" width="2.82" height="5.12" fill="#f5c27e" fill-opacity="0.85"/>
<rect x="562.84" y="217.90" width="3.10" height="7.91" fill="#f5c27e" fill-opacity="0.85"/>
<rect x="565.94" y="220.69" width="2.54" height="5.12" fill="#f5c27e" fill-opacity="0.85"/>
<rect x="568.48" y="219.76" width="3.38" height="6.04" fill="#f5c27e" fill-opacity="0.85"/>
<rect x="571.86" y="218.83" width="3.10" height="6.97" fill="#f5c27e" fill-opacity="0.85"/>
<rect x="574.96" y="218.83" width="2.54" height="6.97" fill="#f5c27e" fill-opacity="0.85"/>
<rect x="577.50" y="223.94" width="2.26" height="1.86" fill="#f5c27e" fill-opacity="0.85"/>
<rect x="579.76" y="222.08" width="3.38" height="3.72" fill="#f5c27e" fill-opacity="0.85"/>
<rect x="583.14" y="223.94" width="2.54" height="1.86" fill="#f5c27e" fill-opacity="0.85"/>
<rect x="585.68" y="225.34" width="5.64" height="0.47" fill="#f5c27e" fill-opacity="0.85"/>
<rect x="549.02" y="225.10" width="5.36" height="0.70" fill="#8a8a8a" fill-opacity="0.60"/>
<rect x="556.92" y="223.24" width="3.10" height="2.56" fill="#8a8a8a" fill-opacity="0.60"/>
<rect x="560.02" y="218.13" width="2.82" height="7.67" fill="#8a8a8a" fill-opacity="0.60"/>
<rect x="562.84" y="220.69" width="3.10" height="5.12" fill="#8a8a8a" fill-opacity="0.60"/>
<rect x="565.94" y="220.69" width="2.54" height="5.12" fill="#8a8a8a" fill-opacity="0.60"/>
<rect x="568.48" y="217.43" width="3.38" height="8.37" fill="#8a8a8a" fill-opacity="0.60"/>
<rect x="571.86" y="221.62" width="3.10" height="4.18" fill="#8a8a8a" fill-opacity="0.60"/>
<rect x="574.96" y="223.94" width="2.54" height="1.86" fill="#8a8a8a" fill-opacity="0.60"/>
<rect x="577.50" y="224.41" width="5.36" height="1.40" fill="#8a8a8a" fill-opacity="0.60"/>
<rect x="582.86" y="225.34" width="8.46" height="0.47" fill="#8a8a8a" fill-opacity="0.60"/>
<line x1="546.20" y1="201.60" x2="546.20" y2="225.80" stroke="#222" stroke-width="1.00" />
<line x1="541.60" y1="225.80" x2="602.20" y2="225.80" stroke="#222" stroke-width="1.00" />
<line x1="541.60" y1="202.80" x2="546.20" y2="202.80" stroke="#222" stroke-width="1.00" />
<line x1="546.20" y1="225.80" x2="546.20" y2="229.80" stroke="#222" stroke-width="1.00" />
<text x="546.50" y="237.00" font-size="5.10" text-anchor="middle" font-weight="normal" fill="#111" stroke="#111" stroke-width="0.06" >0</text>
<line x1="574.20" y1="225.80" x2="574.20" y2="229.80" stroke="#222" stroke-width="1.00" />
<text x="574.50" y="237.00" font-size="5.10" text-anchor="middle" font-weight="normal" fill="#111" stroke="#111" stroke-width="0.06" >10</text>
<line x1="602.20" y1="225.80" x2="602.20" y2="229.80" stroke="#222" stroke-width="1.00" />
<text x="602.50" y="237.00" font-size="5.10" text-anchor="middle" font-weight="normal" fill="#111" stroke="#111" stroke-width="0.06" >20</text>
<text x="574.70" y="246.00" font-size="6.30" text-anchor="middle" font-weight="normal" fill="#111" stroke="#111" stroke-width="0.20" >FWHM (a.u.)</text>
<text x="645.10" y="195.50" font-size="7.05" text-anchor="middle" font-weight="normal" fill="#111" stroke="#111" stroke-width="0.20" >Week 4</text>
<rect x="620.46" y="225.10" width="5.36" height="0.70" fill="#f5c27e" fill-opacity="0.85"/>
<rect x="625.82" y="223.94" width="3.10" height="1.86" fill="#f5c27e" fill-opacity="0.85"/>
<rect x="628.92" y="221.62" width="2.82" height="4.18" fill="#f5c27e" fill-opacity="0.85"/>
<rect x="631.74" y="218.36" width="3.10" height="7.44" fill="#f5c27e" fill-opacity="0.85"/>
<rect x="634.84" y="217.43" width="2.54" height="8.37" fill="#f5c27e" fill-opacity="0.85"/>
<rect x="637.38" y="217.90" width="3.38" height="7.91" fill="#f5c27e" fill-opacity="0.85"/>
<rect x="640.76" y="219.29" width="3.10" height="6.51" fill="#f5c27e" fill-opacity="0.85"/>
<rect x="643.86" y="221.38" width="2.54" height="4.42" fill="#f5c27e" fill-opacity="0.85"/>
<rect x="646.40" y="223.94" width="3.10" height="1.86" fill="#f5c27e" fill-opacity="0.85"/>
<rect x="649.50" y="224.87" width="5.08" height="0.93" fill="#f5c27e" fill-opacity="0.85"/>
<rect x="620.46" y="225.10" width="5.36" height="0.70" fill="#8a8a8a" fill-opacity="0.60"/>
<rect x="625.82" y="222.78" width="3.10" height="3.02" fill="#8a8a8a" fill-opacity="0.60"/>
<rect x="628.92" y="220.69" width="2.82" height="5.12" fill="#8a8a8a" fill-opacity="0.60"/>
<rect x="631.74" y="217.43" width="3.10" height="8.37" fill="#8a8a8a" fill-opacity="0.60"/>
<rect x="634.84" y="218.83" width="2.54" height="6.97" fill="#8a8a8a" fill-opacity="0.60"/>
<rect x="637.38" y="215.11" width="3.38" height="10.70" fill="#8a8a8a" fill-opacity="0.60"/>
<rect x="640.76" y="219.76" width="3.10" height="6.04" fill="#8a8a8a" fill-opacity="0.60"/>
<rect x="643.86" y="223.48" width="2.54" height="2.33" fill="#8a8a8a" fill-opacity="0.60"/>
<rect x="646.40" y="223.94" width="3.10" height="1.86" fill="#8a8a8a" fill-opacity="0.60"/>
<rect x="649.50" y="224.87" width="5.08" height="0.93" fill="#8a8a8a" fill-opacity="0.60"/>
<rect x="654.58" y="225.34" width="11.28" height="0.47" fill="#8a8a8a" fill-opacity="0.60"/>
<line x1="615.10" y1="201.60" x2="615.10" y2="225.80" stroke="#222" stroke-width="1.00" />
<line x1="610.50" y1="225.80" x2="671.10" y2="225.80" stroke="#222" stroke-width="1.00" />
<line x1="610.50" y1="202.80" x2="615.10" y2="202.80" stroke="#222" stroke-width="1.00" />
<line x1="615.10" y1="225.80" x2="615.10" y2="229.80" stroke="#222" stroke-width="1.00" />
<text x="615.40" y="237.00" font-size="5.10" text-anchor="middle" font-weight="normal" fill="#111" stroke="#111" stroke-width="0.06" >0</text>
<line x1="643.10" y1="225.80" x2="643.10" y2="229.80" stroke="#222" stroke-width="1.00" />
<text x="643.40" y="237.00" font-size="5.10" text-anchor="middle" font-weight="normal" fill="#111" stroke="#111" stroke-width="0.06" >10</text>
<line x1="671.10" y1="225.80" x2="671.10" y2="229.80" stroke="#222" stroke-width="1.00" />
<text x="671.40" y="237.00" font-size="5.10" text-anchor="middle" font-weight="normal" fill="#111" stroke="#111" stroke-width="0.06" >20</text>
<text x="643.60" y="246.00" font-size="6.30" text-anchor="middle" font-weight="normal" fill="#111" stroke="#111" stroke-width="0.20" >FWHM (a.u.)</text>
<text x="371.00" y="263.70" font-size="7.05" text-anchor="middle" font-weight="normal" fill="#111" stroke="#111" stroke-width="0.20" >Baseline</text>
<rect x="347.40" y="290.61" width="2.68" height="2.79" fill="#f5c27e" fill-opacity="0.85"/>
<rect x="350.07" y="270.15" width="3.53" height="23.25" fill="#f5c27e" fill-opacity="0.85"/>
<rect x="353.60" y="282.70" width="2.26" height="10.70" fill="#f5c27e" fill-opacity="0.85"/>
<rect x="355.86" y="289.21" width="2.82" height="4.18" fill="#f5c27e" fill-opacity="0.85"/>
<rect x="358.68" y="290.61" width="3.67" height="2.79" fill="#f5c27e" fill-opacity="0.85"/>
<rect x="362.34" y="292.94" width="3.95" height="0.47" fill="#f5c27e" fill-opacity="0.85"/>
<rect x="347.40" y="292.00" width="2.68" height="1.40" fill="#8a8a8a" fill-opacity="0.60"/>
<rect x="350.07" y="275.26" width="3.53" height="18.14" fill="#8a8a8a" fill-opacity="0.60"/>
<rect x="353.60" y="283.63" width="2.26" height="9.76" fill="#8a8a8a" fill-opacity="0.60"/>
<rect x="355.86" y="288.75" width="2.82" height="4.65" fill="#8a8a8a" fill-opacity="0.60"/>
<rect x="358.68" y="289.68" width="3.67" height="3.72" fill="#8a8a8a" fill-opacity="0.60"/>
<rect x="362.34" y="292.94" width="3.95" height="0.47" fill="#8a8a8a" fill-opacity="0.60"/>
<line x1="339.50" y1="269.20" x2="339.50" y2="293.40" stroke="#222" stroke-width="1.00" />
<line x1="334.90" y1="293.40" x2="395.50" y2="293.40" stroke="#222" stroke-width="1.00" />
<line x1="334.90" y1="270.40" x2="339.50" y2="270.40" stroke="#222" stroke-width="1.00" />
<line x1="339.50" y1="293.40" x2="339.50" y2="297.40" stroke="#222" stroke-width="1.00" />
<text x="339.80" y="304.60" font-size="5.10" text-anchor="middle" font-weight="normal" fill="#111" stroke="#111" stroke-width="0.06" >0</text>
<line x1="367.50" y1="293.40" x2="367.50" y2="297.40" stroke="#222" stroke-width="1.00" />
<text x="367.80" y="304.60" font-size="5.10" text-anchor="middle" font-weight="normal" fill="#111" stroke="#111" stroke-width="0.06" >10</text>
<line x1="395.50" y1="293.40" x2="395.50" y2="297.40" stroke="#222" stroke-width="1.00" />
<text x="395.80" y="304.60" font-size="5.10" text-anchor="middle" font-weight="normal" fill="#111" stroke="#111" stroke-width="0.06" >20</text>
<text x="370.40" y="313.10" font-size="6.45" text-anchor="middle" font-weight="normal" fill="#111" stroke="#111" stroke-width="0.20" >FWHM (a.u.)</text>
<text x="333.50" y="272.20" font-size="4.75" text-anchor="end" font-weight="normal" fill="#111" stroke="#111" stroke-width="0.06" >0.5</text>
<text x="333.50" y="295.00" font-size="4.75" text-anchor="end" font-weight="normal" fill="#111" stroke="#111" stroke-width="0.06" >0.0</text>
<text x="0.00" y="0.00" font-size="5.20" text-anchor="middle" font-weight="normal" fill="#111" stroke="#111" stroke-width="0.06" transform="translate(320.2,281.2) rotate(-90)">Density</text>
<text x="438.40" y="263.70" font-size="7.05" text-anchor="middle" font-weight="normal" fill="#111" stroke="#111" stroke-width="0.20" >Week 1</text>
<rect x="414.04" y="292.94" width="2.26" height="0.47" fill="#f5c27e" fill-opacity="0.85"/>
<rect x="416.30" y="288.75" width="2.68" height="4.65" fill="#f5c27e" fill-opacity="0.85"/>
<rect x="418.97" y="274.33" width="3.24" height="19.06" fill="#f5c27e" fill-opacity="0.85"/>
<rect x="422.22" y="280.38" width="2.54" height="13.02" fill="#f5c27e" fill-opacity="0.85"/>
<rect x="424.76" y="286.42" width="2.82" height="6.97" fill="#f5c27e" fill-opacity="0.85"/>
<rect x="427.58" y="292.00" width="3.10" height="1.40" fill="#f5c27e" fill-opacity="0.85"/>
<rect x="414.04" y="292.94" width="2.26" height="0.47" fill="#8a8a8a" fill-opacity="0.60"/>
<rect x="416.30" y="291.54" width="2.68" height="1.86" fill="#8a8a8a" fill-opacity="0.60"/>
<rect x="418.97" y="281.77" width="3.24" height="11.62" fill="#8a8a8a" fill-opacity="0.60"/>
<rect x="422.22" y="278.98" width="2.54" height="14.41" fill="#8a8a8a" fill-opacity="0.60"/>
<rect x="424.76" y="285.03" width="2.82" height="8.37" fill="#8a8a8a" fill-opacity="0.60"/>
<rect x="427.58" y="291.77" width="3.10" height="1.63" fill="#8a8a8a" fill-opacity="0.60"/>
<line x1="408.40" y1="269.20" x2="408.40" y2="293.40" stroke="#222" stroke-width="1.00" />
<line x1="403.80" y1="293.40" x2="464.40" y2="293.40" stroke="#222" stroke-width="1.00" />
<line x1="403.80" y1="270.40" x2="408.40" y2="270.40" stroke="#222" stroke-width="1.00" />
<line x1="408.40" y1="293.40" x2="408.40" y2="297.40" stroke="#222" stroke-width="1.00" />
<text x="408.70" y="304.60" font-size="5.10" text-anchor="middle" font-weight="normal" fill="#111" stroke="#111" stroke-width="0.06" >0</text>
<line x1="436.40" y1="293.40" x2="436.40" y2="297.40" stroke="#222" stroke-width="1.00" />
<text x="436.70" y="304.60" font-size="5.10" text-anchor="middle" font-weight="normal" fill="#111" stroke="#111" stroke-width="0.06" >10</text>
<line x1="464.40" y1="293.40" x2="464.40" y2="297.40" stroke="#222" stroke-width="1.00" />
<text x="464.70" y="304.60" font-size="5.10" text-anchor="middle" font-weight="normal" fill="#111" stroke="#111" stroke-width="0.06" >20</text>
<text x="439.30" y="313.10" font-size="6.45" text-anchor="middle" font-weight="normal" fill="#111" stroke="#111" stroke-width="0.20" >FWHM (a.u.)</text>
<text x="507.30" y="263.70" font-size="7.05" text-anchor="middle" font-weight="normal" fill="#111" stroke="#111" stroke-width="0.20" >Week 2</text>
<rect x="482.38" y="292.94" width="2.82" height="0.47" fill="#f5c27e" fill-opacity="0.85"/>
<rect x="485.20" y="286.89" width="2.68" height="6.51" fill="#f5c27e" fill-opacity="0.85"/>
<rect x="487.88" y="278.52" width="3.24" height="14.88" fill="#f5c27e" fill-opacity="0.85"/>
<rect x="491.12" y="279.45" width="3.38" height="13.95" fill="#f5c27e" fill-opacity="0.85"/>
<rect x="494.50" y="291.07" width="2.54" height="2.33" fill="#f5c27e" fill-opacity="0.85"/>
<rect x="497.04" y="292.70" width="4.79" height="0.70" fill="#f5c27e" fill-opacity="0.85"/>
<rect x="501.83" y="292.47" width="3.67" height="0.93" fill="#f5c27e" fill-opacity="0.85"/>
<rect x="505.50" y="292.94" width="4.51" height="0.47" fill="#f5c27e" fill-opacity="0.85"/>
<rect x="482.38" y="292.94" width="2.82" height="0.47" fill="#8a8a8a" fill-opacity="0.60"/>
<rect x="485.20" y="288.75" width="2.68" height="4.65" fill="#8a8a8a" fill-opacity="0.60"/>
<rect x="487.88" y="281.31" width="3.24" height="12.09" fill="#8a8a8a" fill-opacity="0.60"/>
<rect x="491.12" y="276.19" width="3.38" height="17.20" fill="#8a8a8a" fill-opacity="0.60"/>
<rect x="494.50" y="291.07" width="2.54" height="2.33" fill="#8a8a8a" fill-opacity="0.60"/>
<rect x="497.04" y="292.70" width="4.79" height="0.70" fill="#8a8a8a" fill-opacity="0.60"/>
<rect x="501.83" y="291.54" width="3.67" height="1.86" fill="#8a8a8a" fill-opacity="0.60"/>
<rect x="505.50" y="292.94" width="4.51" height="0.47" fill="#8a8a8a" fill-opacity="0.60"/>
<line x1="477.30" y1="269.20" x2="477.30" y2="293.40" stroke="#222" stroke-width="1.00" />
<line x1="472.70" y1="293.40" x2="533.30" y2="293.40" stroke="#222" stroke-width="1.00" />
<line x1="472.70" y1="270.40" x2="477.30" y2="270.40" stroke="#222" stroke-width="1.00" />
<line x1="477.30" y1="293.40" x2="477.30" y2="297.40" stroke="#222" stroke-width="1.00" />
<text x="477.60" y="304.60" font-size="5.10" text-anchor="middle" font-weight="normal" fill="#111" stroke="#111" stroke-width="0.06" >0</text>
<line x1="505.30" y1="293.40" x2="505.30" y2="297.40" stroke="#222" stroke-width="1.00" />
<text x="505.60" y="304.60" font-size="5.10" text-anchor="middle" font-weight="normal" fill="#111" stroke="#111" stroke-width="0.06" >10</text>
<line x1="533.30" y1="293.40" x2="533.30" y2="297.40" stroke="#222" stroke-width="1.00" />
<text x="533.60" y="304.60" font-size="5.10" text-anchor="middle" font-weight="normal" fill="#111" stroke="#111" stroke-width="0.06" >20</text>
<text x="508.20" y="313.10" font-size="6.45" text-anchor="middle" font-weight="normal" fill="#111" stroke="#111" stroke-width="0.20" >FWHM (a.u.)</text>
<text x="576.20" y="263.70" font-size="7.05" text-anchor="middle" font-weight="normal" fill="#111" stroke="#111" stroke-width="0.20" >Week 3</text>
<rect x="549.02" y="292.94" width="5.08" height="0.47" fill="#f5c27e" fill-opacity="0.85"/>
<rect x="554.10" y="290.61" width="2.68" height="2.79" fill="#f5c27e" fill-opacity="0.85"/>
<rect x="556.78" y="274.33" width="3.24" height="19.06" fill="#f5c27e" fill-opacity="0.85"/>
<rect x="560.02" y="283.17" width="3.52" height="10.23" fill="#f5c27e" fill-opacity="0.85"/>
<rect x="563.54" y="288.75" width="2.68" height="4.65" fill="#f5c27e" fill-opacity="0.85"/>
<rect x="566.22" y="292.70" width="3.67" height="0.70" fill="#f5c27e" fill-opacity="0.85"/>
<rect x="549.02" y="292.94" width="5.08" height="0.47" fill="#8a8a8a" fill-opacity="0.60"/>
<rect x="554.10" y="292.47" width="2.68" height="0.93" fill="#8a8a8a" fill-opacity="0.60"/>
<rect x="556.78" y="282.24" width="3.24" height="11.16" fill="#8a8a8a" fill-opacity="0.60"/>
<rect x="560.02" y="276.66" width="3.52" height="16.74" fill="#8a8a8a" fill-opacity="0.60"/>
<rect x="563.54" y="287.82" width="2.68" height="5.58" fill="#8a8a8a" fill-opacity="0.60"/>
<rect x="566.22" y="292.70" width="3.67" height="0.70" fill="#8a8a8a" fill-opacity="0.60"/>
<line x1="546.20" y1="269.20" x2="546.20" y2="293.40" stroke="#222" stroke-width="1.00" />
<line x1="541.60" y1="293.40" x2="602.20" y2="293.40" stroke="#222" stroke-width="1.00" />
<line x1="541.60" y1="270.40" x2="546.20" y2="270.40" stroke="#222" stroke-width="1.00" />
<line x1="546.20" y1="293.40" x2="546.20" y2="297.40" stroke="#222" stroke-width="1.00" />
<text x="546.50" y="304.60" font-size="5.10" text-anchor="middle" font-weight="normal" fill="#111" stroke="#111" stroke-width="0.06" >0</text>
<line x1="574.20" y1="293.40" x2="574.20" y2="297.40" stroke="#222" stroke-width="1.00" />
<text x="574.50" y="304.60" font-size="5.10" text-anchor="middle" font-weight="normal" fill="#111" stroke="#111" stroke-width="0.06" >10</text>
<line x1="602.20" y1="293.40" x2="602.20" y2="297.40" stroke="#222" stroke-width="1.00" />
<text x="602.50" y="304.60" font-size="5.10" text-anchor="middle" font-weight="normal" fill="#111" stroke="#111" stroke-width="0.06" >20</text>
<text x="577.10" y="313.10" font-size="6.45" text-anchor="middle" font-weight="normal" fill="#111" stroke="#111" stroke-width="0.20" >FWHM (a.u.)</text>
<text x="645.10" y="263.70" font-size="7.05" text-anchor="middle" font-weight="normal" fill="#111" stroke="#111" stroke-width="0.20" >Week 4</text>
<rect x="620.74" y="291.77" width="4.94" height="1.63" fill="#f5c27e" fill-opacity="0.85"/>
<rect x="625.68" y="271.54" width="4.09" height="21.86" fill="#f5c27e" fill-opacity="0.85"/>
<rect x="629.76" y="281.77" width="2.68" height="11.62" fill="#f5c27e" fill-opacity="0.85"/>
<rect x="632.44" y="289.21" width="2.68" height="4.18" fill="#f5c27e" fill-opacity="0.85"/>
<rect x="635.12" y="292.00" width="2.82" height="1.40" fill="#f5c27e" fill-opacity="0.85"/>
<rect x="637.94" y="292.94" width="2.54" height="0.47" fill="#f5c27e" fill-opacity="0.85"/>
<rect x="620.74" y="292.94" width="4.94" height="0.47" fill="#8a8a8a" fill-opacity="0.60"/>
<rect x="625.68" y="276.19" width="4.09" height="17.20" fill="#8a8a8a" fill-opacity="0.60"/>
<rect x="629.76" y="280.84" width="2.68" height="12.56" fill="#8a8a8a" fill-opacity="0.60"/>
<rect x="632.44" y="288.28" width="2.68" height="5.12" fill="#8a8a8a" fill-opacity="0.60"/>
<rect x="635.12" y="292.00" width="2.82" height="1.40" fill="#8a8a8a" fill-opacity="0.60"/>
<rect x="637.94" y="292.94" width="2.54" height="0.47" fill="#8a8a8a" fill-opacity="0.60"/>
<line x1="615.10" y1="269.20" x2="615.10" y2="293.40" stroke="#222" stroke-width="1.00" />
<line x1="610.50" y1="293.40" x2="671.10" y2="293.40" stroke="#222" stroke-width="1.00" />
<line x1="610.50" y1="270.40" x2="615.10" y2="270.40" stroke="#222" stroke-width="1.00" />
<line x1="615.10" y1="293.40" x2="615.10" y2="297.40" stroke="#222" stroke-width="1.00" />
<text x="615.40" y="304.60" font-size="5.10" text-anchor="middle" font-weight="normal" fill="#111" stroke="#111" stroke-width="0.06" >0</text>
<line x1="643.10" y1="293.40" x2="643.10" y2="297.40" stroke="#222" stroke-width="1.00" />
<text x="643.40" y="304.60" font-size="5.10" text-anchor="middle" font-weight="normal" fill="#111" stroke="#111" stroke-width="0.06" >10</text>
<line x1="671.10" y1="293.40" x2="671.10" y2="297.40" stroke="#222" stroke-width="1.00" />
<text x="671.40" y="304.60" font-size="5.10" text-anchor="middle" font-weight="normal" fill="#111" stroke="#111" stroke-width="0.06" >20</text>
<text x="646.00" y="313.10" font-size="6.45" text-anchor="middle" font-weight="normal" fill="#111" stroke="#111" stroke-width="0.20" >FWHM (a.u.)</text>
<rect x="646.50" y="202.60" width="10.20" height="4.10" fill="#f0cd9a" stroke="#e8c290" stroke-width="0.4"/>
<rect x="646.50" y="209.50" width="10.20" height="4.30" fill="#a3a4aa" stroke="#8a8a8e" stroke-width="0.5"/>
<text x="660.80" y="206.60" font-size="5.00" text-anchor="start" font-weight="normal" fill="#333" stroke="#333" stroke-width="0.06" >Repair</text>
<text x="660.80" y="213.60" font-size="5.00" text-anchor="start" font-weight="normal" fill="#333" stroke="#333" stroke-width="0.06" >No Repair</text>
</svg>
</body></html>
